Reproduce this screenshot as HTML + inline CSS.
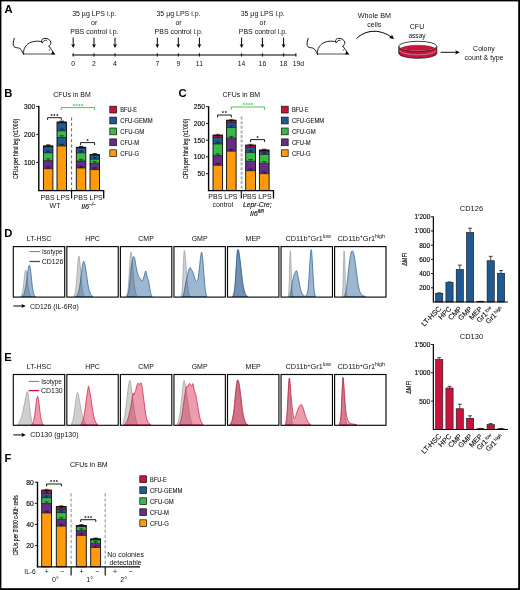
<!DOCTYPE html>
<html lang="en">
<head>
<meta charset="utf-8">
<title>Figure</title>
<style>
html,body{margin:0;padding:0;background:#fff;}
body{width:520px;height:590px;overflow:hidden;font-family:"Liberation Sans",sans-serif;}
svg{display:block;will-change:transform;}
svg text{font-family:"Liberation Sans",sans-serif;}
</style>
</head>
<body>
<svg width="520" height="590" viewBox="0 0 520 590">
<rect width="520" height="590" fill="#fff"/>
<text transform="translate(4.40,12.80) scale(1.1,1)" font-size="10.2" font-weight="bold" fill="#000">A</text>
<g transform="translate(13.00,54.50)" fill="none" stroke="#111" stroke-width="0.95" stroke-linecap="round" stroke-linejoin="round"><path d="M10.6,-0.5 L41.2,-0.5" stroke="#555" stroke-width="1.1"/><path d="M1.3,-16.2 C0.5,-13.5 -0.1,-11 0.3,-9.2 C0.9,-6.8 3,-7.0 5.2,-6.6 C7.8,-6.1 8.8,-4.2 9.5,-2 L10.5,-0.4"/><path d="M10.6,-0.4 C9.9,-6 13.2,-10.4 18,-12.3 C21.8,-13.7 25.6,-13.4 27.8,-13.0 L29.7,-12.0"/><path d="M28.7,-12.6 C28.2,-14.8 29.6,-16.2 32,-16.1 C34.8,-16.3 37.3,-14.6 37.8,-12.4 C38.1,-10.7 37.1,-9.3 36,-8.4"/><path d="M29.7,-12.0 C30.2,-13.6 31.6,-14.6 33.4,-14.2" stroke-width="0.8"/><path d="M36,-8.4 L38.4,-5 L41.6,-0.4"/><circle cx="36.4" cy="-4.5" r="0.6" fill="#000" stroke="none"/><path d="M38.2,-0.2 L41.9,0.1 L39.5,-3.3 Z" fill="#000" stroke="none"/></g>
<line x1="72.40" y1="55.00" x2="296.20" y2="55.00" stroke="#000" stroke-width="1.1" />
<line x1="73.20" y1="53.20" x2="73.20" y2="56.60" stroke="#000" stroke-width="0.9" />
<text x="73.20" y="65.80" font-size="6.80" text-anchor="middle" font-weight="normal" font-style="normal" fill="#111"  >0</text>
<line x1="73.20" y1="37.60" x2="73.20" y2="45.30" stroke="#000" stroke-width="1.0" />
<path d="M73.20,47.90 L71.20,44.00 L73.20,44.90 L75.20,44.00 Z" fill="#000"/>
<line x1="94.00" y1="53.20" x2="94.00" y2="56.60" stroke="#000" stroke-width="0.9" />
<text x="94.00" y="65.80" font-size="6.80" text-anchor="middle" font-weight="normal" font-style="normal" fill="#111"  >2</text>
<line x1="94.00" y1="37.60" x2="94.00" y2="45.30" stroke="#000" stroke-width="1.0" />
<path d="M94.00,47.90 L92.00,44.00 L94.00,44.90 L96.00,44.00 Z" fill="#000"/>
<line x1="115.00" y1="53.20" x2="115.00" y2="56.60" stroke="#000" stroke-width="0.9" />
<text x="115.00" y="65.80" font-size="6.80" text-anchor="middle" font-weight="normal" font-style="normal" fill="#111"  >4</text>
<line x1="115.00" y1="37.60" x2="115.00" y2="45.30" stroke="#000" stroke-width="1.0" />
<path d="M115.00,47.90 L113.00,44.00 L115.00,44.90 L117.00,44.00 Z" fill="#000"/>
<line x1="157.30" y1="53.20" x2="157.30" y2="56.60" stroke="#000" stroke-width="0.9" />
<text x="157.30" y="65.80" font-size="6.80" text-anchor="middle" font-weight="normal" font-style="normal" fill="#111"  >7</text>
<line x1="157.30" y1="37.60" x2="157.30" y2="45.30" stroke="#000" stroke-width="1.0" />
<path d="M157.30,47.90 L155.30,44.00 L157.30,44.90 L159.30,44.00 Z" fill="#000"/>
<line x1="178.30" y1="53.20" x2="178.30" y2="56.60" stroke="#000" stroke-width="0.9" />
<text x="178.30" y="65.80" font-size="6.80" text-anchor="middle" font-weight="normal" font-style="normal" fill="#111"  >9</text>
<line x1="178.30" y1="37.60" x2="178.30" y2="45.30" stroke="#000" stroke-width="1.0" />
<path d="M178.30,47.90 L176.30,44.00 L178.30,44.90 L180.30,44.00 Z" fill="#000"/>
<line x1="199.40" y1="53.20" x2="199.40" y2="56.60" stroke="#000" stroke-width="0.9" />
<text x="199.40" y="65.80" font-size="7.28" text-anchor="middle" font-weight="normal" font-style="normal" fill="#111" textLength="7.06" lengthAdjust="spacingAndGlyphs" >11</text>
<line x1="199.40" y1="37.60" x2="199.40" y2="45.30" stroke="#000" stroke-width="1.0" />
<path d="M199.40,47.90 L197.40,44.00 L199.40,44.90 L201.40,44.00 Z" fill="#000"/>
<line x1="241.60" y1="53.20" x2="241.60" y2="56.60" stroke="#000" stroke-width="0.9" />
<text x="241.60" y="65.80" font-size="7.28" text-anchor="middle" font-weight="normal" font-style="normal" fill="#111" textLength="7.56" lengthAdjust="spacingAndGlyphs" >14</text>
<line x1="241.60" y1="37.60" x2="241.60" y2="45.30" stroke="#000" stroke-width="1.0" />
<path d="M241.60,47.90 L239.60,44.00 L241.60,44.90 L243.60,44.00 Z" fill="#000"/>
<line x1="262.40" y1="53.20" x2="262.40" y2="56.60" stroke="#000" stroke-width="0.9" />
<text x="262.40" y="65.80" font-size="7.28" text-anchor="middle" font-weight="normal" font-style="normal" fill="#111" textLength="7.56" lengthAdjust="spacingAndGlyphs" >16</text>
<line x1="262.40" y1="37.60" x2="262.40" y2="45.30" stroke="#000" stroke-width="1.0" />
<path d="M262.40,47.90 L260.40,44.00 L262.40,44.90 L264.40,44.00 Z" fill="#000"/>
<line x1="283.60" y1="53.20" x2="283.60" y2="56.60" stroke="#000" stroke-width="0.9" />
<text x="283.60" y="65.80" font-size="7.28" text-anchor="middle" font-weight="normal" font-style="normal" fill="#111" textLength="7.56" lengthAdjust="spacingAndGlyphs" >18</text>
<line x1="283.60" y1="37.60" x2="283.60" y2="45.30" stroke="#000" stroke-width="1.0" />
<path d="M283.60,47.90 L281.60,44.00 L283.60,44.90 L285.60,44.00 Z" fill="#000"/>
<line x1="295.90" y1="53.20" x2="295.90" y2="56.60" stroke="#000" stroke-width="0.9" />
<text x="298.40" y="65.80" font-size="7.28" text-anchor="middle" font-weight="normal" font-style="normal" fill="#111" textLength="11.35" lengthAdjust="spacingAndGlyphs" >19d</text>
<text x="94.20" y="16.20" font-size="7.49" text-anchor="middle" font-weight="normal" font-style="normal" fill="#111" textLength="44.12" lengthAdjust="spacingAndGlyphs" >35 µg LPS i.p.</text>
<text x="94.20" y="24.70" font-size="7.49" text-anchor="middle" font-weight="normal" font-style="normal" fill="#111" textLength="6.22" lengthAdjust="spacingAndGlyphs" >or</text>
<text x="94.40" y="33.50" font-size="7.49" text-anchor="middle" font-weight="normal" font-style="normal" fill="#111" textLength="48.24" lengthAdjust="spacingAndGlyphs" >PBS control i.p.</text>
<text x="178.50" y="16.20" font-size="7.49" text-anchor="middle" font-weight="normal" font-style="normal" fill="#111" textLength="44.12" lengthAdjust="spacingAndGlyphs" >35 µg LPS i.p.</text>
<text x="178.50" y="24.70" font-size="7.49" text-anchor="middle" font-weight="normal" font-style="normal" fill="#111" textLength="6.22" lengthAdjust="spacingAndGlyphs" >or</text>
<text x="178.70" y="33.50" font-size="7.49" text-anchor="middle" font-weight="normal" font-style="normal" fill="#111" textLength="48.24" lengthAdjust="spacingAndGlyphs" >PBS control i.p.</text>
<text x="262.70" y="16.20" font-size="7.49" text-anchor="middle" font-weight="normal" font-style="normal" fill="#111" textLength="44.12" lengthAdjust="spacingAndGlyphs" >35 µg LPS i.p.</text>
<text x="262.70" y="24.70" font-size="7.49" text-anchor="middle" font-weight="normal" font-style="normal" fill="#111" textLength="6.22" lengthAdjust="spacingAndGlyphs" >or</text>
<text x="262.90" y="33.50" font-size="7.49" text-anchor="middle" font-weight="normal" font-style="normal" fill="#111" textLength="48.24" lengthAdjust="spacingAndGlyphs" >PBS control i.p.</text>
<g transform="translate(306.90,54.50)" fill="none" stroke="#111" stroke-width="0.95" stroke-linecap="round" stroke-linejoin="round"><path d="M10.6,-0.5 L41.2,-0.5" stroke="#555" stroke-width="1.1"/><path d="M1.3,-16.2 C0.5,-13.5 -0.1,-11 0.3,-9.2 C0.9,-6.8 3,-7.0 5.2,-6.6 C7.8,-6.1 8.8,-4.2 9.5,-2 L10.5,-0.4"/><path d="M10.6,-0.4 C9.9,-6 13.2,-10.4 18,-12.3 C21.8,-13.7 25.6,-13.4 27.8,-13.0 L29.7,-12.0"/><path d="M28.7,-12.6 C28.2,-14.8 29.6,-16.2 32,-16.1 C34.8,-16.3 37.3,-14.6 37.8,-12.4 C38.1,-10.7 37.1,-9.3 36,-8.4"/><path d="M29.7,-12.0 C30.2,-13.6 31.6,-14.6 33.4,-14.2" stroke-width="0.8"/><path d="M36,-8.4 L38.4,-5 L41.6,-0.4"/><circle cx="36.4" cy="-4.5" r="0.6" fill="#000" stroke="none"/><path d="M38.2,-0.2 L41.9,0.1 L39.5,-3.3 Z" fill="#000" stroke="none"/></g>
<text x="374.40" y="18.00" font-size="7.70" text-anchor="middle" font-weight="normal" font-style="normal" fill="#111" textLength="33.21" lengthAdjust="spacingAndGlyphs" >Whole BM</text>
<text x="374.20" y="26.80" font-size="7.49" text-anchor="middle" font-weight="normal" font-style="normal" fill="#111" textLength="14.00" lengthAdjust="spacingAndGlyphs" >cells</text>
<path d="M356.5,38.6 C362,32.8 371,30.0 379.5,31.8 C384,32.8 388,34.6 391.2,37.0" fill="none" stroke="#000" stroke-width="1.0" />
<path d="M394.0,39.0 L389.0,37.9 L391.2,36.6 L391.9,34.4 Z" fill="#000"/>
<text x="417.00" y="29.00" font-size="7.49" text-anchor="middle" font-weight="normal" font-style="normal" fill="#111" textLength="14.39" lengthAdjust="spacingAndGlyphs" >CFU</text>
<text x="417.00" y="37.60" font-size="7.06" text-anchor="middle" font-weight="normal" font-style="normal" fill="#111" textLength="17.24" lengthAdjust="spacingAndGlyphs" >assay</text>
<path d="M398.8,46.3 L398.8,53.3 A19,5.0 0 0 0 436.8,53.3 L436.8,46.3 Z" fill="#c8143c" stroke="#111" stroke-width="0.8" />
<ellipse cx="417.8" cy="46.3" rx="19" ry="5.0" fill="#fff" stroke="#111" stroke-width="0.8"/>
<clipPath id="dishclip"><ellipse cx="417.8" cy="46.3" rx="18.55" ry="4.55"/></clipPath>
<ellipse cx="417.8" cy="49.599999999999994" rx="18.1" ry="4.4" fill="#c8143c" stroke="#7a2030" stroke-width="0.5" clip-path="url(#dishclip)"/>
<path d="M399.40000000000003,50.699999999999996 A19,5.6 0 0 0 436.2,50.699999999999996" fill="none" stroke="#a8a0a2" stroke-width="0.8" />
<line x1="440.60" y1="52.30" x2="456.50" y2="52.30" stroke="#000" stroke-width="0.95" />
<path d="M459.8,52.3 L455.2,50.2 L456.2,52.3 L455.2,54.4 Z" fill="#000"/>
<text x="484.00" y="51.20" font-size="7.49" text-anchor="middle" font-weight="normal" font-style="normal" fill="#111" textLength="21.79" lengthAdjust="spacingAndGlyphs" >Colony</text>
<text x="484.00" y="59.60" font-size="7.49" text-anchor="middle" font-weight="normal" font-style="normal" fill="#111" textLength="38.91" lengthAdjust="spacingAndGlyphs" >count &amp; type</text>
<text transform="translate(4.30,97.00) scale(1.1,1)" font-size="10.2" font-weight="bold" fill="#000">B</text>
<text x="72.00" y="97.00" font-size="7.49" text-anchor="middle" font-weight="normal" font-style="normal" fill="#111" textLength="37.72" lengthAdjust="spacingAndGlyphs" >CFUs in BM</text>
<rect x="43.40" y="168.70" width="9.50" height="21.70" fill="#ff9a0a"/>
<rect x="43.40" y="160.61" width="9.50" height="8.09" fill="#662d87"/>
<rect x="43.40" y="152.80" width="9.50" height="7.81" fill="#3cb84a"/>
<rect x="43.40" y="146.58" width="9.50" height="6.22" fill="#1f5a94"/>
<rect x="43.40" y="145.99" width="9.50" height="0.59" fill="#c8143c"/>
<line x1="43.40" y1="168.70" x2="52.90" y2="168.70" stroke="#0a0a0a" stroke-width="0.7" />
<line x1="48.15" y1="168.70" x2="48.15" y2="167.00" stroke="#0a0a0a" stroke-width="0.6" />
<line x1="46.05" y1="167.00" x2="50.25" y2="167.00" stroke="#0a0a0a" stroke-width="0.6" />
<line x1="43.40" y1="160.61" x2="52.90" y2="160.61" stroke="#0a0a0a" stroke-width="0.7" />
<line x1="48.15" y1="160.61" x2="48.15" y2="158.91" stroke="#0a0a0a" stroke-width="0.6" />
<line x1="46.05" y1="158.91" x2="50.25" y2="158.91" stroke="#0a0a0a" stroke-width="0.6" />
<line x1="43.40" y1="152.80" x2="52.90" y2="152.80" stroke="#0a0a0a" stroke-width="0.7" />
<line x1="48.15" y1="152.80" x2="48.15" y2="151.10" stroke="#0a0a0a" stroke-width="0.6" />
<line x1="46.05" y1="151.10" x2="50.25" y2="151.10" stroke="#0a0a0a" stroke-width="0.6" />
<line x1="43.40" y1="146.58" x2="52.90" y2="146.58" stroke="#0a0a0a" stroke-width="0.7" />
<line x1="48.15" y1="146.58" x2="48.15" y2="144.88" stroke="#0a0a0a" stroke-width="0.6" />
<line x1="46.05" y1="144.88" x2="50.25" y2="144.88" stroke="#0a0a0a" stroke-width="0.6" />
<line x1="43.40" y1="145.99" x2="52.90" y2="145.99" stroke="#0a0a0a" stroke-width="0.7" />
<line x1="48.15" y1="145.99" x2="48.15" y2="145.09" stroke="#0a0a0a" stroke-width="0.6" />
<line x1="46.05" y1="145.09" x2="50.25" y2="145.09" stroke="#0a0a0a" stroke-width="0.6" />
<rect x="43.40" y="145.99" width="9.50" height="44.41" fill="none" stroke="#0a0a0a" stroke-width="0.9"/>
<rect x="57.00" y="145.99" width="9.50" height="44.41" fill="#ff9a0a"/>
<rect x="57.00" y="137.48" width="9.50" height="8.51" fill="#1f5a94"/>
<rect x="57.00" y="130.76" width="9.50" height="6.72" fill="#3cb84a"/>
<rect x="57.00" y="122.78" width="9.50" height="7.98" fill="#1f5a94"/>
<rect x="57.00" y="122.11" width="9.50" height="0.67" fill="#c8143c"/>
<line x1="57.00" y1="145.99" x2="66.50" y2="145.99" stroke="#0a0a0a" stroke-width="0.7" />
<line x1="61.75" y1="145.99" x2="61.75" y2="144.29" stroke="#0a0a0a" stroke-width="0.6" />
<line x1="59.65" y1="144.29" x2="63.85" y2="144.29" stroke="#0a0a0a" stroke-width="0.6" />
<line x1="57.00" y1="137.48" x2="66.50" y2="137.48" stroke="#0a0a0a" stroke-width="0.7" />
<line x1="61.75" y1="137.48" x2="61.75" y2="135.78" stroke="#0a0a0a" stroke-width="0.6" />
<line x1="59.65" y1="135.78" x2="63.85" y2="135.78" stroke="#0a0a0a" stroke-width="0.6" />
<line x1="57.00" y1="130.76" x2="66.50" y2="130.76" stroke="#0a0a0a" stroke-width="0.7" />
<line x1="61.75" y1="130.76" x2="61.75" y2="129.06" stroke="#0a0a0a" stroke-width="0.6" />
<line x1="59.65" y1="129.06" x2="63.85" y2="129.06" stroke="#0a0a0a" stroke-width="0.6" />
<line x1="57.00" y1="122.78" x2="66.50" y2="122.78" stroke="#0a0a0a" stroke-width="0.7" />
<line x1="61.75" y1="122.78" x2="61.75" y2="121.08" stroke="#0a0a0a" stroke-width="0.6" />
<line x1="59.65" y1="121.08" x2="63.85" y2="121.08" stroke="#0a0a0a" stroke-width="0.6" />
<line x1="57.00" y1="122.11" x2="66.50" y2="122.11" stroke="#0a0a0a" stroke-width="0.7" />
<line x1="61.75" y1="122.11" x2="61.75" y2="121.21" stroke="#0a0a0a" stroke-width="0.6" />
<line x1="59.65" y1="121.21" x2="63.85" y2="121.21" stroke="#0a0a0a" stroke-width="0.6" />
<rect x="57.00" y="122.11" width="9.50" height="68.29" fill="none" stroke="#0a0a0a" stroke-width="0.9"/>
<rect x="76.30" y="168.00" width="9.50" height="22.40" fill="#ff9a0a"/>
<rect x="76.30" y="161.00" width="9.50" height="7.00" fill="#662d87"/>
<rect x="76.30" y="152.80" width="9.50" height="8.20" fill="#3cb84a"/>
<rect x="76.30" y="147.95" width="9.50" height="4.84" fill="#1f5a94"/>
<rect x="76.30" y="147.39" width="9.50" height="0.56" fill="#c8143c"/>
<line x1="76.30" y1="168.00" x2="85.80" y2="168.00" stroke="#0a0a0a" stroke-width="0.7" />
<line x1="81.05" y1="168.00" x2="81.05" y2="166.30" stroke="#0a0a0a" stroke-width="0.6" />
<line x1="78.95" y1="166.30" x2="83.15" y2="166.30" stroke="#0a0a0a" stroke-width="0.6" />
<line x1="76.30" y1="161.00" x2="85.80" y2="161.00" stroke="#0a0a0a" stroke-width="0.7" />
<line x1="81.05" y1="161.00" x2="81.05" y2="159.30" stroke="#0a0a0a" stroke-width="0.6" />
<line x1="78.95" y1="159.30" x2="83.15" y2="159.30" stroke="#0a0a0a" stroke-width="0.6" />
<line x1="76.30" y1="152.80" x2="85.80" y2="152.80" stroke="#0a0a0a" stroke-width="0.7" />
<line x1="81.05" y1="152.80" x2="81.05" y2="151.10" stroke="#0a0a0a" stroke-width="0.6" />
<line x1="78.95" y1="151.10" x2="83.15" y2="151.10" stroke="#0a0a0a" stroke-width="0.6" />
<line x1="76.30" y1="147.95" x2="85.80" y2="147.95" stroke="#0a0a0a" stroke-width="0.7" />
<line x1="81.05" y1="147.95" x2="81.05" y2="146.25" stroke="#0a0a0a" stroke-width="0.6" />
<line x1="78.95" y1="146.25" x2="83.15" y2="146.25" stroke="#0a0a0a" stroke-width="0.6" />
<line x1="76.30" y1="147.39" x2="85.80" y2="147.39" stroke="#0a0a0a" stroke-width="0.7" />
<line x1="81.05" y1="147.39" x2="81.05" y2="146.49" stroke="#0a0a0a" stroke-width="0.6" />
<line x1="78.95" y1="146.49" x2="83.15" y2="146.49" stroke="#0a0a0a" stroke-width="0.6" />
<rect x="76.30" y="147.39" width="9.50" height="43.01" fill="none" stroke="#0a0a0a" stroke-width="0.9"/>
<rect x="90.00" y="169.60" width="9.50" height="20.80" fill="#ff9a0a"/>
<rect x="90.00" y="163.30" width="9.50" height="6.30" fill="#662d87"/>
<rect x="90.00" y="159.21" width="9.50" height="4.09" fill="#3cb84a"/>
<rect x="90.00" y="155.26" width="9.50" height="3.95" fill="#1f5a94"/>
<rect x="90.00" y="154.70" width="9.50" height="0.56" fill="#c8143c"/>
<line x1="90.00" y1="169.60" x2="99.50" y2="169.60" stroke="#0a0a0a" stroke-width="0.7" />
<line x1="94.75" y1="169.60" x2="94.75" y2="167.90" stroke="#0a0a0a" stroke-width="0.6" />
<line x1="92.65" y1="167.90" x2="96.85" y2="167.90" stroke="#0a0a0a" stroke-width="0.6" />
<line x1="90.00" y1="163.30" x2="99.50" y2="163.30" stroke="#0a0a0a" stroke-width="0.7" />
<line x1="94.75" y1="163.30" x2="94.75" y2="161.60" stroke="#0a0a0a" stroke-width="0.6" />
<line x1="92.65" y1="161.60" x2="96.85" y2="161.60" stroke="#0a0a0a" stroke-width="0.6" />
<line x1="90.00" y1="159.21" x2="99.50" y2="159.21" stroke="#0a0a0a" stroke-width="0.7" />
<line x1="94.75" y1="159.21" x2="94.75" y2="157.51" stroke="#0a0a0a" stroke-width="0.6" />
<line x1="92.65" y1="157.51" x2="96.85" y2="157.51" stroke="#0a0a0a" stroke-width="0.6" />
<line x1="90.00" y1="155.26" x2="99.50" y2="155.26" stroke="#0a0a0a" stroke-width="0.7" />
<line x1="94.75" y1="155.26" x2="94.75" y2="153.56" stroke="#0a0a0a" stroke-width="0.6" />
<line x1="92.65" y1="153.56" x2="96.85" y2="153.56" stroke="#0a0a0a" stroke-width="0.6" />
<line x1="90.00" y1="154.70" x2="99.50" y2="154.70" stroke="#0a0a0a" stroke-width="0.7" />
<line x1="94.75" y1="154.70" x2="94.75" y2="153.80" stroke="#0a0a0a" stroke-width="0.6" />
<line x1="92.65" y1="153.80" x2="96.85" y2="153.80" stroke="#0a0a0a" stroke-width="0.6" />
<rect x="90.00" y="154.70" width="9.50" height="35.70" fill="none" stroke="#0a0a0a" stroke-width="0.9"/>
<line x1="38.80" y1="105.80" x2="38.80" y2="191.10" stroke="#000" stroke-width="1.4" />
<path d="M38.099999999999994,190.70000000000002 L103.7,190.70000000000002 L103.7,198.6" fill="none" stroke="#000" stroke-width="1.3" />
<line x1="71.60" y1="190.40" x2="71.60" y2="198.60" stroke="#000" stroke-width="1.1" />
<line x1="36.20" y1="162.40" x2="38.80" y2="162.40" stroke="#000" stroke-width="0.9" />
<text x="35.20" y="164.80" font-size="7.17" text-anchor="end" font-weight="normal" font-style="normal" fill="#111" textLength="11.18" lengthAdjust="spacingAndGlyphs" stroke="#111" stroke-width="0.18">100</text>
<line x1="36.20" y1="134.40" x2="38.80" y2="134.40" stroke="#000" stroke-width="0.9" />
<text x="35.20" y="136.80" font-size="7.17" text-anchor="end" font-weight="normal" font-style="normal" fill="#111" textLength="11.18" lengthAdjust="spacingAndGlyphs" stroke="#111" stroke-width="0.18">200</text>
<line x1="36.20" y1="106.40" x2="38.80" y2="106.40" stroke="#000" stroke-width="0.9" />
<text x="35.20" y="108.80" font-size="7.17" text-anchor="end" font-weight="normal" font-style="normal" fill="#111" textLength="11.18" lengthAdjust="spacingAndGlyphs" stroke="#111" stroke-width="0.18">300</text>
<line x1="71.60" y1="117.50" x2="71.60" y2="189.80" stroke="#2e2e2e" stroke-width="0.75" stroke-dasharray="3,2.4"/>
<path d="M47.60,119.90 L47.60,117.70 L61.30,117.70 L61.30,119.90" fill="none" stroke="#000" stroke-width="0.9" />
<text x="54.45" y="117.80" font-size="5.60" text-anchor="middle" font-weight="bold" font-style="normal" fill="#000"  textLength="7.8" lengthAdjust="spacing">***</text>
<path d="M61.30,110.20 L61.30,107.60 L94.60,107.60 L94.60,110.20" fill="none" stroke="#3cb84a" stroke-width="0.9" />
<text x="77.95" y="107.70" font-size="5.60" text-anchor="middle" font-weight="bold" font-style="normal" fill="#3cb84a"  textLength="10.4" lengthAdjust="spacing">****</text>
<path d="M80.60,145.00 L80.60,142.60 L94.60,142.60 L94.60,145.00" fill="none" stroke="#000" stroke-width="0.9" />
<text x="87.60" y="142.70" font-size="5.60" text-anchor="middle" font-weight="bold" font-style="normal" fill="#000"  >*</text>
<text x="55.20" y="199.60" font-size="7.49" text-anchor="middle" font-weight="normal" font-style="normal" fill="#111" textLength="29.18" lengthAdjust="spacingAndGlyphs" >PBS LPS</text>
<text x="88.20" y="199.60" font-size="7.49" text-anchor="middle" font-weight="normal" font-style="normal" fill="#111" textLength="29.18" lengthAdjust="spacingAndGlyphs" >PBS LPS</text>
<text x="55.00" y="208.20" font-size="7.49" text-anchor="middle" font-weight="normal" font-style="normal" fill="#111" textLength="10.88" lengthAdjust="spacingAndGlyphs" >WT</text>
<text x="88.6" y="208.6" font-size="7.2" text-anchor="middle" font-style="italic" fill="#111" stroke="#111" stroke-width="0.15">Il6<tspan font-size="4.8" dy="-2.6">−/−</tspan></text>
<text transform="translate(17.80,148.90) rotate(-90)" font-size="7.0" text-anchor="middle" fill="#111" stroke="#111" stroke-width="0.18" textLength="60" lengthAdjust="spacingAndGlyphs">CFUs per hind leg (x1’000)</text>
<rect x="109.80" y="106.20" width="6.80" height="6.80" fill="#c8143c" stroke="#111" stroke-width="0.7"/>
<text x="120.30" y="112.20" font-size="6.80" text-anchor="start" font-weight="normal" font-style="normal" fill="#111"  textLength="16.8" lengthAdjust="spacingAndGlyphs" stroke="#111" stroke-width="0.08">BFU-E</text>
<rect x="109.80" y="117.10" width="6.80" height="6.80" fill="#1f5a94" stroke="#111" stroke-width="0.7"/>
<text x="120.30" y="123.10" font-size="6.80" text-anchor="start" font-weight="normal" font-style="normal" fill="#111"  textLength="32.3" lengthAdjust="spacingAndGlyphs" stroke="#111" stroke-width="0.08">CFU-GEMM</text>
<rect x="109.80" y="128.00" width="6.80" height="6.80" fill="#3cb84a" stroke="#111" stroke-width="0.7"/>
<text x="120.30" y="134.00" font-size="6.80" text-anchor="start" font-weight="normal" font-style="normal" fill="#111"  textLength="23.8" lengthAdjust="spacingAndGlyphs" stroke="#111" stroke-width="0.08">CFU-GM</text>
<rect x="109.80" y="138.90" width="6.80" height="6.80" fill="#662d87" stroke="#111" stroke-width="0.7"/>
<text x="120.30" y="144.90" font-size="6.80" text-anchor="start" font-weight="normal" font-style="normal" fill="#111"  textLength="18.8" lengthAdjust="spacingAndGlyphs" stroke="#111" stroke-width="0.08">CFU-M</text>
<rect x="109.80" y="149.80" width="6.80" height="6.80" fill="#ff9a0a" stroke="#111" stroke-width="0.7"/>
<text x="120.30" y="155.80" font-size="6.80" text-anchor="start" font-weight="normal" font-style="normal" fill="#111"  textLength="18.8" lengthAdjust="spacingAndGlyphs" stroke="#111" stroke-width="0.08">CFU-G</text>
<text transform="translate(178.40,97.00) scale(1.1,1)" font-size="10.2" font-weight="bold" fill="#000">C</text>
<text x="241.30" y="97.00" font-size="7.49" text-anchor="middle" font-weight="normal" font-style="normal" fill="#111" textLength="37.72" lengthAdjust="spacingAndGlyphs" >CFUs in BM</text>
<rect x="213.00" y="165.28" width="9.60" height="25.12" fill="#ff9a0a"/>
<rect x="213.00" y="155.56" width="9.60" height="9.72" fill="#662d87"/>
<rect x="213.00" y="143.90" width="9.60" height="11.66" fill="#3cb84a"/>
<rect x="213.00" y="137.47" width="9.60" height="6.43" fill="#1f5a94"/>
<rect x="213.00" y="135.19" width="9.60" height="2.28" fill="#c8143c"/>
<line x1="213.00" y1="165.28" x2="222.60" y2="165.28" stroke="#0a0a0a" stroke-width="0.7" />
<line x1="217.80" y1="165.28" x2="217.80" y2="163.58" stroke="#0a0a0a" stroke-width="0.6" />
<line x1="215.70" y1="163.58" x2="219.90" y2="163.58" stroke="#0a0a0a" stroke-width="0.6" />
<line x1="213.00" y1="155.56" x2="222.60" y2="155.56" stroke="#0a0a0a" stroke-width="0.7" />
<line x1="217.80" y1="155.56" x2="217.80" y2="153.86" stroke="#0a0a0a" stroke-width="0.6" />
<line x1="215.70" y1="153.86" x2="219.90" y2="153.86" stroke="#0a0a0a" stroke-width="0.6" />
<line x1="213.00" y1="143.90" x2="222.60" y2="143.90" stroke="#0a0a0a" stroke-width="0.7" />
<line x1="217.80" y1="143.90" x2="217.80" y2="142.20" stroke="#0a0a0a" stroke-width="0.6" />
<line x1="215.70" y1="142.20" x2="219.90" y2="142.20" stroke="#0a0a0a" stroke-width="0.6" />
<line x1="213.00" y1="137.47" x2="222.60" y2="137.47" stroke="#0a0a0a" stroke-width="0.7" />
<line x1="217.80" y1="137.47" x2="217.80" y2="135.77" stroke="#0a0a0a" stroke-width="0.6" />
<line x1="215.70" y1="135.77" x2="219.90" y2="135.77" stroke="#0a0a0a" stroke-width="0.6" />
<line x1="213.00" y1="135.19" x2="222.60" y2="135.19" stroke="#0a0a0a" stroke-width="0.7" />
<line x1="217.80" y1="135.19" x2="217.80" y2="134.29" stroke="#0a0a0a" stroke-width="0.6" />
<line x1="215.70" y1="134.29" x2="219.90" y2="134.29" stroke="#0a0a0a" stroke-width="0.6" />
<rect x="213.00" y="135.19" width="9.60" height="55.21" fill="none" stroke="#0a0a0a" stroke-width="0.9"/>
<rect x="226.60" y="151.21" width="9.50" height="39.19" fill="#ff9a0a"/>
<rect x="226.60" y="138.14" width="9.50" height="13.07" fill="#662d87"/>
<rect x="226.60" y="127.59" width="9.50" height="10.55" fill="#3cb84a"/>
<rect x="226.60" y="122.60" width="9.50" height="4.99" fill="#1f5a94"/>
<rect x="226.60" y="120.28" width="9.50" height="2.31" fill="#c8143c"/>
<line x1="226.60" y1="151.21" x2="236.10" y2="151.21" stroke="#0a0a0a" stroke-width="0.7" />
<line x1="231.35" y1="151.21" x2="231.35" y2="149.51" stroke="#0a0a0a" stroke-width="0.6" />
<line x1="229.25" y1="149.51" x2="233.45" y2="149.51" stroke="#0a0a0a" stroke-width="0.6" />
<line x1="226.60" y1="138.14" x2="236.10" y2="138.14" stroke="#0a0a0a" stroke-width="0.7" />
<line x1="231.35" y1="138.14" x2="231.35" y2="136.44" stroke="#0a0a0a" stroke-width="0.6" />
<line x1="229.25" y1="136.44" x2="233.45" y2="136.44" stroke="#0a0a0a" stroke-width="0.6" />
<line x1="226.60" y1="127.59" x2="236.10" y2="127.59" stroke="#0a0a0a" stroke-width="0.7" />
<line x1="231.35" y1="127.59" x2="231.35" y2="125.89" stroke="#0a0a0a" stroke-width="0.6" />
<line x1="229.25" y1="125.89" x2="233.45" y2="125.89" stroke="#0a0a0a" stroke-width="0.6" />
<line x1="226.60" y1="122.60" x2="236.10" y2="122.60" stroke="#0a0a0a" stroke-width="0.7" />
<line x1="231.35" y1="122.60" x2="231.35" y2="120.90" stroke="#0a0a0a" stroke-width="0.6" />
<line x1="229.25" y1="120.90" x2="233.45" y2="120.90" stroke="#0a0a0a" stroke-width="0.6" />
<line x1="226.60" y1="120.28" x2="236.10" y2="120.28" stroke="#0a0a0a" stroke-width="0.7" />
<line x1="231.35" y1="120.28" x2="231.35" y2="119.38" stroke="#0a0a0a" stroke-width="0.6" />
<line x1="229.25" y1="119.38" x2="233.45" y2="119.38" stroke="#0a0a0a" stroke-width="0.6" />
<rect x="226.60" y="120.28" width="9.50" height="70.12" fill="none" stroke="#0a0a0a" stroke-width="0.9"/>
<rect x="245.70" y="170.70" width="9.80" height="19.70" fill="#ff9a0a"/>
<rect x="245.70" y="161.25" width="9.80" height="9.45" fill="#662d87"/>
<rect x="245.70" y="152.41" width="9.80" height="8.84" fill="#3cb84a"/>
<rect x="245.70" y="147.39" width="9.80" height="5.03" fill="#1f5a94"/>
<rect x="245.70" y="145.18" width="9.80" height="2.21" fill="#c8143c"/>
<line x1="245.70" y1="170.70" x2="255.50" y2="170.70" stroke="#0a0a0a" stroke-width="0.7" />
<line x1="250.60" y1="170.70" x2="250.60" y2="169.00" stroke="#0a0a0a" stroke-width="0.6" />
<line x1="248.50" y1="169.00" x2="252.70" y2="169.00" stroke="#0a0a0a" stroke-width="0.6" />
<line x1="245.70" y1="161.25" x2="255.50" y2="161.25" stroke="#0a0a0a" stroke-width="0.7" />
<line x1="250.60" y1="161.25" x2="250.60" y2="159.56" stroke="#0a0a0a" stroke-width="0.6" />
<line x1="248.50" y1="159.56" x2="252.70" y2="159.56" stroke="#0a0a0a" stroke-width="0.6" />
<line x1="245.70" y1="152.41" x2="255.50" y2="152.41" stroke="#0a0a0a" stroke-width="0.7" />
<line x1="250.60" y1="152.41" x2="250.60" y2="150.71" stroke="#0a0a0a" stroke-width="0.6" />
<line x1="248.50" y1="150.71" x2="252.70" y2="150.71" stroke="#0a0a0a" stroke-width="0.6" />
<line x1="245.70" y1="147.39" x2="255.50" y2="147.39" stroke="#0a0a0a" stroke-width="0.7" />
<line x1="250.60" y1="147.39" x2="250.60" y2="145.69" stroke="#0a0a0a" stroke-width="0.6" />
<line x1="248.50" y1="145.69" x2="252.70" y2="145.69" stroke="#0a0a0a" stroke-width="0.6" />
<line x1="245.70" y1="145.18" x2="255.50" y2="145.18" stroke="#0a0a0a" stroke-width="0.7" />
<line x1="250.60" y1="145.18" x2="250.60" y2="144.28" stroke="#0a0a0a" stroke-width="0.6" />
<line x1="248.50" y1="144.28" x2="252.70" y2="144.28" stroke="#0a0a0a" stroke-width="0.6" />
<rect x="245.70" y="145.18" width="9.80" height="45.22" fill="none" stroke="#0a0a0a" stroke-width="0.9"/>
<rect x="259.40" y="173.68" width="9.70" height="16.72" fill="#ff9a0a"/>
<rect x="259.40" y="163.27" width="9.70" height="10.42" fill="#662d87"/>
<rect x="259.40" y="154.39" width="9.70" height="8.88" fill="#3cb84a"/>
<rect x="259.40" y="151.54" width="9.70" height="2.85" fill="#1f5a94"/>
<rect x="259.40" y="150.10" width="9.70" height="1.44" fill="#c8143c"/>
<line x1="259.40" y1="173.68" x2="269.10" y2="173.68" stroke="#0a0a0a" stroke-width="0.7" />
<line x1="264.25" y1="173.68" x2="264.25" y2="171.98" stroke="#0a0a0a" stroke-width="0.6" />
<line x1="262.15" y1="171.98" x2="266.35" y2="171.98" stroke="#0a0a0a" stroke-width="0.6" />
<line x1="259.40" y1="163.27" x2="269.10" y2="163.27" stroke="#0a0a0a" stroke-width="0.7" />
<line x1="264.25" y1="163.27" x2="264.25" y2="161.57" stroke="#0a0a0a" stroke-width="0.6" />
<line x1="262.15" y1="161.57" x2="266.35" y2="161.57" stroke="#0a0a0a" stroke-width="0.6" />
<line x1="259.40" y1="154.39" x2="269.10" y2="154.39" stroke="#0a0a0a" stroke-width="0.7" />
<line x1="264.25" y1="154.39" x2="264.25" y2="152.69" stroke="#0a0a0a" stroke-width="0.6" />
<line x1="262.15" y1="152.69" x2="266.35" y2="152.69" stroke="#0a0a0a" stroke-width="0.6" />
<line x1="259.40" y1="151.54" x2="269.10" y2="151.54" stroke="#0a0a0a" stroke-width="0.7" />
<line x1="264.25" y1="151.54" x2="264.25" y2="149.84" stroke="#0a0a0a" stroke-width="0.6" />
<line x1="262.15" y1="149.84" x2="266.35" y2="149.84" stroke="#0a0a0a" stroke-width="0.6" />
<line x1="259.40" y1="150.10" x2="269.10" y2="150.10" stroke="#0a0a0a" stroke-width="0.7" />
<line x1="264.25" y1="150.10" x2="264.25" y2="149.20" stroke="#0a0a0a" stroke-width="0.6" />
<line x1="262.15" y1="149.20" x2="266.35" y2="149.20" stroke="#0a0a0a" stroke-width="0.6" />
<rect x="259.40" y="150.10" width="9.70" height="40.30" fill="none" stroke="#0a0a0a" stroke-width="0.9"/>
<line x1="208.60" y1="106.30" x2="208.60" y2="191.10" stroke="#000" stroke-width="1.4" />
<path d="M207.9,190.70000000000002 L273.5,190.70000000000002 L273.5,198.4" fill="none" stroke="#000" stroke-width="1.3" />
<line x1="241.30" y1="190.40" x2="241.30" y2="198.40" stroke="#000" stroke-width="1.1" />
<line x1="206.00" y1="173.65" x2="208.60" y2="173.65" stroke="#000" stroke-width="0.9" />
<text x="205.00" y="176.05" font-size="7.17" text-anchor="end" font-weight="normal" font-style="normal" fill="#111" textLength="7.45" lengthAdjust="spacingAndGlyphs" stroke="#111" stroke-width="0.18">50</text>
<line x1="206.00" y1="156.90" x2="208.60" y2="156.90" stroke="#000" stroke-width="0.9" />
<text x="205.00" y="159.30" font-size="7.17" text-anchor="end" font-weight="normal" font-style="normal" fill="#111" textLength="11.18" lengthAdjust="spacingAndGlyphs" stroke="#111" stroke-width="0.18">100</text>
<line x1="206.00" y1="140.15" x2="208.60" y2="140.15" stroke="#000" stroke-width="0.9" />
<text x="205.00" y="142.55" font-size="7.17" text-anchor="end" font-weight="normal" font-style="normal" fill="#111" textLength="11.18" lengthAdjust="spacingAndGlyphs" stroke="#111" stroke-width="0.18">150</text>
<line x1="206.00" y1="123.40" x2="208.60" y2="123.40" stroke="#000" stroke-width="0.9" />
<text x="205.00" y="125.80" font-size="7.17" text-anchor="end" font-weight="normal" font-style="normal" fill="#111" textLength="11.18" lengthAdjust="spacingAndGlyphs" stroke="#111" stroke-width="0.18">200</text>
<line x1="206.00" y1="106.65" x2="208.60" y2="106.65" stroke="#000" stroke-width="0.9" />
<text x="205.00" y="109.05" font-size="7.17" text-anchor="end" font-weight="normal" font-style="normal" fill="#111" textLength="11.18" lengthAdjust="spacingAndGlyphs" stroke="#111" stroke-width="0.18">250</text>
<line x1="241.60" y1="116.60" x2="241.60" y2="189.80" stroke="#b2b2b2" stroke-width="2.0" stroke-dasharray="3.0,1.6"/>
<path d="M217.60,117.40 L217.60,115.00 L231.30,115.00 L231.30,117.40" fill="none" stroke="#000" stroke-width="0.9" />
<text x="224.45" y="115.10" font-size="5.60" text-anchor="middle" font-weight="bold" font-style="normal" fill="#000"  textLength="5.2" lengthAdjust="spacing">**</text>
<path d="M231.30,109.80 L231.30,107.00 L264.60,107.00 L264.60,109.80" fill="none" stroke="#3cb84a" stroke-width="0.9" />
<text x="247.95" y="107.10" font-size="5.60" text-anchor="middle" font-weight="bold" font-style="normal" fill="#3cb84a"  textLength="10.4" lengthAdjust="spacing">****</text>
<path d="M250.60,142.00 L250.60,139.60 L264.60,139.60 L264.60,142.00" fill="none" stroke="#000" stroke-width="0.9" />
<text x="257.60" y="139.70" font-size="5.60" text-anchor="middle" font-weight="bold" font-style="normal" fill="#000"  >*</text>
<text x="222.90" y="198.50" font-size="7.49" text-anchor="middle" font-weight="normal" font-style="normal" fill="#111" textLength="29.18" lengthAdjust="spacingAndGlyphs" >PBS LPS</text>
<text x="257.00" y="198.50" font-size="7.49" text-anchor="middle" font-weight="normal" font-style="normal" fill="#111" textLength="29.18" lengthAdjust="spacingAndGlyphs" >PBS LPS</text>
<text x="222.90" y="206.80" font-size="7.38" text-anchor="middle" font-weight="normal" font-style="normal" fill="#111" textLength="20.71" lengthAdjust="spacingAndGlyphs" >control</text>
<text x="257.30" y="206.60" font-size="7.28" text-anchor="middle" font-weight="normal" font-style="italic" fill="#111" textLength="28.60" lengthAdjust="spacingAndGlyphs" stroke="#111" stroke-width="0.15">Lepr-Cre;</text>
<text x="256.9" y="215.5" font-size="7.2" text-anchor="middle" font-style="italic" fill="#111" stroke="#111" stroke-width="0.15">Il6<tspan font-size="4.8" dy="-2.6">fl/fl</tspan></text>
<text transform="translate(187.80,148.90) rotate(-90)" font-size="7.0" text-anchor="middle" fill="#111" stroke="#111" stroke-width="0.18" textLength="60" lengthAdjust="spacingAndGlyphs">CFUs per hind leg (x1’000)</text>
<rect x="281.40" y="106.20" width="6.80" height="6.80" fill="#c8143c" stroke="#111" stroke-width="0.7"/>
<text x="291.90" y="112.20" font-size="6.80" text-anchor="start" font-weight="normal" font-style="normal" fill="#111"  textLength="16.8" lengthAdjust="spacingAndGlyphs" stroke="#111" stroke-width="0.08">BFU-E</text>
<rect x="281.40" y="117.10" width="6.80" height="6.80" fill="#1f5a94" stroke="#111" stroke-width="0.7"/>
<text x="291.90" y="123.10" font-size="6.80" text-anchor="start" font-weight="normal" font-style="normal" fill="#111"  textLength="32.3" lengthAdjust="spacingAndGlyphs" stroke="#111" stroke-width="0.08">CFU-GEMM</text>
<rect x="281.40" y="128.00" width="6.80" height="6.80" fill="#3cb84a" stroke="#111" stroke-width="0.7"/>
<text x="291.90" y="134.00" font-size="6.80" text-anchor="start" font-weight="normal" font-style="normal" fill="#111"  textLength="23.8" lengthAdjust="spacingAndGlyphs" stroke="#111" stroke-width="0.08">CFU-GM</text>
<rect x="281.40" y="138.90" width="6.80" height="6.80" fill="#662d87" stroke="#111" stroke-width="0.7"/>
<text x="291.90" y="144.90" font-size="6.80" text-anchor="start" font-weight="normal" font-style="normal" fill="#111"  textLength="18.8" lengthAdjust="spacingAndGlyphs" stroke="#111" stroke-width="0.08">CFU-M</text>
<rect x="281.40" y="149.80" width="6.80" height="6.80" fill="#ff9a0a" stroke="#111" stroke-width="0.7"/>
<text x="291.90" y="155.80" font-size="6.80" text-anchor="start" font-weight="normal" font-style="normal" fill="#111"  textLength="18.8" lengthAdjust="spacingAndGlyphs" stroke="#111" stroke-width="0.08">CFU-G</text>
<text transform="translate(4.30,236.50) scale(1.1,1)" font-size="10.2" font-weight="bold" fill="#000">D</text>
<path d="M20.30,296.50 C20.52,296.25 21.22,296.10 21.65,294.91 C22.08,293.72 22.59,291.71 23.00,289.08 C23.41,286.45 23.86,281.24 24.19,278.48 C24.52,275.72 24.81,273.21 25.05,271.86 C25.29,270.50 25.48,270.00 25.70,270.00 C25.92,270.00 26.14,270.50 26.40,271.86 C26.66,273.21 26.97,275.72 27.32,278.48 C27.68,281.24 28.16,286.45 28.60,289.08 C29.04,291.71 29.59,293.72 30.05,294.91 C30.51,296.10 31.27,296.25 31.50,296.50 Z" fill="#cfcfcf" fill-opacity="1.0" stroke="#9c9c9c" stroke-width="0.7" stroke-linejoin="round"/>
<path d="M21.80,296.50 C22.10,296.20 23.09,296.03 23.70,294.63 C24.31,293.23 25.03,290.86 25.60,287.76 C26.17,284.67 26.81,278.53 27.27,275.28 C27.73,272.04 28.15,269.08 28.49,267.48 C28.83,265.89 29.14,265.30 29.40,265.30 C29.66,265.30 29.87,265.89 30.14,267.48 C30.42,269.08 30.76,272.04 31.14,275.28 C31.51,278.53 32.03,284.67 32.50,287.76 C32.97,290.86 33.55,293.23 34.05,294.63 C34.55,296.03 35.35,296.20 35.60,296.50 Z" fill="#1f5a94" fill-opacity="0.44" stroke="#1f5a94" stroke-width="0.7" stroke-linejoin="round"/>
<path d="M73.50,296.50 C73.72,296.11 74.42,295.88 74.85,294.07 C75.28,292.26 75.79,289.18 76.20,285.16 C76.61,281.14 77.06,273.17 77.39,268.96 C77.72,264.75 78.01,260.91 78.25,258.83 C78.49,256.76 78.69,256.00 78.90,256.00 C79.11,256.00 79.33,256.76 79.58,258.83 C79.84,260.91 80.15,264.75 80.50,268.96 C80.84,273.17 81.32,281.14 81.75,285.16 C82.18,289.18 82.72,292.26 83.17,294.07 C83.63,295.88 84.37,296.11 84.60,296.50 Z" fill="#cfcfcf" fill-opacity="1.0" stroke="#9c9c9c" stroke-width="0.7" stroke-linejoin="round"/>
<path d="M75.70,296.50 C76.02,296.16 77.06,295.97 77.70,294.39 C78.34,292.82 79.10,290.15 79.70,286.67 C80.30,283.19 80.97,276.28 81.46,272.63 C81.95,268.98 82.38,265.65 82.74,263.86 C83.10,262.06 83.37,261.40 83.70,261.40 C84.03,261.40 84.40,262.06 84.82,263.86 C85.23,265.65 85.74,268.98 86.30,272.63 C86.87,276.28 87.65,283.19 88.35,286.67 C89.05,290.15 89.93,292.82 90.67,294.39 C91.42,295.97 92.63,296.16 93.00,296.50 Z" fill="#1f5a94" fill-opacity="0.44" stroke="#1f5a94" stroke-width="0.7" stroke-linejoin="round"/>
<path d="M126.20,296.50 C126.39,296.07 127.00,295.82 127.38,293.81 C127.75,291.80 128.20,288.40 128.55,283.96 C128.90,279.51 129.30,270.70 129.58,266.04 C129.87,261.38 130.13,257.13 130.34,254.84 C130.55,252.54 130.68,251.70 130.90,251.70 C131.12,251.70 131.40,252.54 131.70,254.84 C132.00,257.13 132.37,261.38 132.78,266.04 C133.18,270.70 133.75,279.51 134.25,283.96 C134.75,288.40 135.39,291.80 135.93,293.81 C136.46,295.82 137.33,296.07 137.60,296.50 Z" fill="#cfcfcf" fill-opacity="1.0" stroke="#9c9c9c" stroke-width="0.7" stroke-linejoin="round"/>
<path d="M126.60,296.50 C126.90,295.78 127.96,294.64 128.50,292.00 C129.04,289.36 129.55,284.00 130.00,280.00 C130.45,276.00 130.90,270.28 131.30,267.00 C131.70,263.72 132.12,261.16 132.50,259.50 C132.88,257.84 133.33,256.68 133.70,256.60 C134.07,256.52 134.43,257.50 134.80,259.00 C135.17,260.50 135.60,263.84 136.00,266.00 C136.40,268.16 136.88,270.85 137.30,272.50 C137.72,274.15 138.14,275.32 138.60,276.30 C139.06,277.28 139.66,277.82 140.20,278.60 C140.74,279.38 141.46,281.30 142.00,281.20 C142.54,281.10 143.12,279.39 143.60,278.00 C144.08,276.61 144.66,273.62 145.00,272.50 C145.34,271.38 145.44,270.76 145.70,271.00 C145.96,271.24 146.30,272.80 146.60,274.00 C146.90,275.20 147.30,277.46 147.60,278.50 C147.90,279.54 148.18,279.14 148.50,280.50 C148.82,281.86 149.23,284.92 149.60,287.00 C149.97,289.08 150.38,291.98 150.80,293.50 C151.22,295.02 151.98,296.02 152.20,296.50 Z" fill="#1f5a94" fill-opacity="0.44" stroke="#1f5a94" stroke-width="0.7" stroke-linejoin="round"/>
<path d="M180.90,296.50 C181.04,296.06 181.48,295.80 181.75,293.72 C182.02,291.65 182.34,288.13 182.60,283.54 C182.86,278.94 183.14,269.83 183.35,265.02 C183.55,260.20 183.74,255.81 183.89,253.44 C184.04,251.07 184.12,250.20 184.30,250.20 C184.48,250.20 184.76,251.07 185.03,253.44 C185.31,255.81 185.64,260.20 186.01,265.02 C186.38,269.83 186.89,278.94 187.35,283.54 C187.81,288.13 188.39,291.65 188.88,293.72 C189.36,295.80 190.16,296.06 190.40,296.50 Z" fill="#cfcfcf" fill-opacity="1.0" stroke="#9c9c9c" stroke-width="0.7" stroke-linejoin="round"/>
<path d="M182.40,296.50 C182.66,295.86 183.49,294.50 184.00,292.50 C184.51,290.50 185.09,286.64 185.60,284.00 C186.11,281.36 186.69,278.24 187.20,276.00 C187.71,273.76 188.32,271.34 188.80,270.00 C189.28,268.66 189.77,267.60 190.20,267.60 C190.63,267.60 191.08,269.30 191.50,270.00 C191.92,270.70 192.43,271.20 192.80,272.00 C193.17,272.80 193.42,273.80 193.80,275.00 C194.18,276.20 194.75,278.41 195.20,279.50 C195.65,280.59 196.15,281.88 196.60,281.80 C197.05,281.72 197.55,281.21 198.00,279.00 C198.45,276.79 198.98,271.52 199.40,268.00 C199.82,264.48 200.25,259.53 200.60,257.00 C200.95,254.47 201.30,252.20 201.60,252.20 C201.90,252.20 202.18,254.15 202.50,257.00 C202.82,259.85 203.23,265.52 203.60,270.00 C203.97,274.48 204.45,281.32 204.80,285.00 C205.15,288.68 205.45,291.16 205.80,293.00 C206.15,294.84 206.81,295.94 207.00,296.50 Z" fill="#1f5a94" fill-opacity="0.44" stroke="#1f5a94" stroke-width="0.7" stroke-linejoin="round"/>
<path d="M232.80,296.50 C233.00,296.05 233.63,295.79 234.03,293.70 C234.42,291.61 234.88,288.06 235.25,283.42 C235.62,278.79 236.03,269.60 236.33,264.74 C236.63,259.89 236.89,255.46 237.11,253.07 C237.33,250.68 237.43,249.80 237.70,249.80 C237.97,249.80 238.38,250.68 238.79,253.07 C239.20,255.46 239.69,259.89 240.25,264.74 C240.80,269.60 241.57,278.79 242.25,283.42 C242.93,288.06 243.80,291.61 244.53,293.70 C245.25,295.79 246.44,296.05 246.80,296.50 Z" fill="#cfcfcf" fill-opacity="1.0" stroke="#9c9c9c" stroke-width="0.7" stroke-linejoin="round"/>
<path d="M232.40,296.50 C232.62,296.05 233.34,295.78 233.78,293.67 C234.22,291.56 234.74,287.98 235.15,283.31 C235.56,278.64 236.03,269.37 236.36,264.47 C236.69,259.57 236.99,255.11 237.24,252.70 C237.49,250.29 237.60,249.40 237.90,249.40 C238.20,249.40 238.64,250.29 239.09,252.70 C239.53,255.11 240.07,259.57 240.67,264.47 C241.27,269.37 242.11,278.64 242.85,283.31 C243.59,287.98 244.53,291.56 245.33,293.67 C246.12,295.78 247.40,296.05 247.80,296.50 Z" fill="#1f5a94" fill-opacity="0.52" stroke="#1f5a94" stroke-width="0.7" stroke-linejoin="round"/>
<path d="M288.10,296.50 C288.19,296.06 288.47,295.81 288.65,293.76 C288.83,291.71 289.03,288.24 289.20,283.70 C289.37,279.17 289.55,270.18 289.68,265.42 C289.82,260.67 289.94,256.34 290.04,254.00 C290.13,251.66 290.20,250.80 290.30,250.80 C290.40,250.80 290.51,251.66 290.64,254.00 C290.76,256.34 290.91,260.67 291.08,265.42 C291.25,270.18 291.49,279.17 291.70,283.70 C291.91,288.24 292.18,291.71 292.40,293.76 C292.62,295.81 292.99,296.06 293.10,296.50 Z" fill="#cfcfcf" fill-opacity="1.0" stroke="#9c9c9c" stroke-width="0.7" stroke-linejoin="round"/>
<path d="M289.60,296.50 C289.82,295.62 290.55,293.32 291.00,291.00 C291.45,288.68 291.95,284.48 292.40,282.00 C292.85,279.52 293.35,277.04 293.80,275.50 C294.25,273.96 294.80,273.18 295.20,272.40 C295.60,271.62 295.96,270.50 296.30,270.60 C296.64,270.70 296.93,271.66 297.30,273.00 C297.67,274.34 298.17,276.84 298.60,279.00 C299.03,281.16 299.54,284.37 300.00,286.50 C300.46,288.63 300.99,290.91 301.50,292.30 C302.01,293.69 302.64,294.56 303.20,295.20 C303.76,295.84 304.46,296.33 305.00,296.30 C305.54,296.27 306.15,295.85 306.60,295.00 C307.05,294.15 307.45,293.40 307.80,291.00 C308.15,288.60 308.48,284.32 308.80,280.00 C309.12,275.68 309.51,268.32 309.80,264.00 C310.09,259.68 310.39,255.30 310.60,253.00 C310.81,250.70 310.91,249.52 311.10,249.60 C311.29,249.68 311.56,250.88 311.80,253.50 C312.04,256.12 312.33,261.44 312.60,266.00 C312.87,270.56 313.21,277.76 313.50,282.00 C313.79,286.24 314.06,290.18 314.40,292.50 C314.74,294.82 315.41,295.86 315.60,296.50 Z" fill="#1f5a94" fill-opacity="0.44" stroke="#1f5a94" stroke-width="0.7" stroke-linejoin="round"/>
<path d="M342.00,296.50 C342.08,296.06 342.36,295.81 342.52,293.76 C342.69,291.71 342.89,288.24 343.05,283.70 C343.21,279.17 343.38,270.18 343.51,265.42 C343.64,260.67 343.75,256.34 343.85,254.00 C343.94,251.66 344.01,250.80 344.10,250.80 C344.19,250.80 344.31,251.66 344.44,254.00 C344.56,256.34 344.71,260.67 344.88,265.42 C345.05,270.18 345.29,279.17 345.50,283.70 C345.71,288.24 345.98,291.71 346.20,293.76 C346.42,295.81 346.79,296.06 346.90,296.50 Z" fill="#cfcfcf" fill-opacity="1.0" stroke="#9c9c9c" stroke-width="0.7" stroke-linejoin="round"/>
<path d="M344.20,296.50 C344.42,295.94 345.15,295.00 345.60,293.00 C346.05,291.00 346.55,287.52 347.00,284.00 C347.45,280.48 347.95,274.92 348.40,271.00 C348.85,267.08 349.38,262.38 349.80,259.50 C350.22,256.62 350.62,254.41 351.00,253.00 C351.38,251.59 351.82,250.78 352.20,250.70 C352.58,250.62 353.02,251.33 353.40,252.50 C353.78,253.67 354.18,255.52 354.60,258.00 C355.02,260.48 355.55,264.64 356.00,268.00 C356.45,271.36 356.95,275.88 357.40,279.00 C357.85,282.12 358.32,285.29 358.80,287.50 C359.28,289.71 359.82,291.57 360.40,292.80 C360.98,294.03 361.58,294.61 362.40,295.20 C363.22,295.79 365.00,296.29 365.50,296.50 Z" fill="#1f5a94" fill-opacity="0.44" stroke="#1f5a94" stroke-width="0.7" stroke-linejoin="round"/>
<rect x="13.30" y="246.6" width="51.4" height="50.50000000000003" fill="none" stroke="#0a0a0a" stroke-width="1.15"/>
<text x="39.00" y="240.60" font-size="7.49" text-anchor="middle" font-weight="normal" font-style="normal" fill="#111" textLength="24.37" lengthAdjust="spacingAndGlyphs" >LT-HSC</text>
<rect x="66.85" y="246.6" width="51.4" height="50.50000000000003" fill="none" stroke="#0a0a0a" stroke-width="1.15"/>
<text x="92.55" y="240.60" font-size="7.49" text-anchor="middle" font-weight="normal" font-style="normal" fill="#111" textLength="14.78" lengthAdjust="spacingAndGlyphs" >HPC</text>
<rect x="120.40" y="246.6" width="51.4" height="50.50000000000003" fill="none" stroke="#0a0a0a" stroke-width="1.15"/>
<text x="146.10" y="240.60" font-size="7.49" text-anchor="middle" font-weight="normal" font-style="normal" fill="#111" textLength="15.56" lengthAdjust="spacingAndGlyphs" >CMP</text>
<rect x="173.95" y="246.6" width="51.4" height="50.50000000000003" fill="none" stroke="#0a0a0a" stroke-width="1.15"/>
<text x="199.65" y="240.60" font-size="7.49" text-anchor="middle" font-weight="normal" font-style="normal" fill="#111" textLength="15.94" lengthAdjust="spacingAndGlyphs" >GMP</text>
<rect x="227.50" y="246.6" width="51.4" height="50.50000000000003" fill="none" stroke="#0a0a0a" stroke-width="1.15"/>
<text x="253.20" y="240.60" font-size="7.49" text-anchor="middle" font-weight="normal" font-style="normal" fill="#111" textLength="15.17" lengthAdjust="spacingAndGlyphs" >MEP</text>
<rect x="281.05" y="246.6" width="51.4" height="50.50000000000003" fill="none" stroke="#0a0a0a" stroke-width="1.15"/>
<text x="285.40" y="240.6" font-size="7.3" text-anchor="start" fill="#111">CD11b<tspan font-size="5.2" dy="-2.4">+</tspan><tspan dy="2.4">Gr1</tspan><tspan font-size="5.3" dy="-2.6">low</tspan></text>
<rect x="334.60" y="246.6" width="51.4" height="50.50000000000003" fill="none" stroke="#0a0a0a" stroke-width="1.15"/>
<text x="337.60" y="240.6" font-size="7.3" text-anchor="start" fill="#111">CD11b<tspan font-size="5.2" dy="-2.4">+</tspan><tspan dy="2.4">Gr1</tspan><tspan font-size="5.3" dy="-2.6">high</tspan></text>
<line x1="29.40" y1="251.60" x2="40.10" y2="251.60" stroke="#7d7d7d" stroke-width="1.0" />
<text x="41.90" y="254.00" font-size="6.90" text-anchor="start" font-weight="normal" font-style="normal" fill="#111"  textLength="20.6" lengthAdjust="spacingAndGlyphs">Isotype</text>
<line x1="29.40" y1="261.50" x2="40.10" y2="261.50" stroke="#1f5a94" stroke-width="1.3" />
<text x="41.70" y="264.00" font-size="6.90" text-anchor="start" font-weight="normal" font-style="normal" fill="#111"  textLength="21.6" lengthAdjust="spacingAndGlyphs">CD126</text>
<line x1="13.40" y1="306.00" x2="22.50" y2="306.00" stroke="#000" stroke-width="1.0" />
<path d="M25.8,306 L21.4,303.9 L22.3,306 L21.4,308.1 Z" fill="#000"/>
<text x="30.00" y="308.50" font-size="7.00" text-anchor="start" font-weight="normal" font-style="normal" fill="#111"  textLength="48.8" lengthAdjust="spacingAndGlyphs">CD126 (IL-6Rα)</text>
<text transform="translate(4.30,360.80) scale(1.1,1)" font-size="10.2" font-weight="bold" fill="#000">E</text>
<path d="M17.50,424.70 C17.90,424.11 19.28,422.55 20.00,421.00 C20.72,419.45 21.36,417.40 22.00,415.00 C22.64,412.60 23.42,408.72 24.00,406.00 C24.58,403.28 25.18,400.08 25.60,398.00 C26.02,395.92 26.34,394.06 26.60,393.00 C26.86,391.94 26.99,391.40 27.20,391.40 C27.41,391.40 27.64,391.78 27.90,393.00 C28.16,394.22 28.50,396.60 28.80,399.00 C29.10,401.40 29.48,405.28 29.80,408.00 C30.12,410.72 30.48,413.84 30.80,416.00 C31.12,418.16 31.45,420.11 31.80,421.50 C32.15,422.89 32.81,424.19 33.00,424.70 Z" fill="#cfcfcf" fill-opacity="1.0" stroke="#9c9c9c" stroke-width="0.7" stroke-linejoin="round"/>
<path d="M31.40,424.70 C31.65,424.43 32.45,424.27 32.95,423.00 C33.45,421.72 34.03,419.57 34.50,416.75 C34.97,413.93 35.49,408.34 35.86,405.39 C36.24,402.43 36.58,399.74 36.86,398.29 C37.13,396.83 37.37,396.30 37.60,396.30 C37.83,396.30 38.05,396.83 38.32,398.29 C38.59,399.74 38.92,402.43 39.28,405.39 C39.64,408.34 40.15,413.93 40.60,416.75 C41.05,419.57 41.62,421.72 42.10,423.00 C42.58,424.27 43.36,424.43 43.60,424.70 Z" fill="#d4143c" fill-opacity="0.42" stroke="#c8143c" stroke-width="0.7" stroke-linejoin="round"/>
<path d="M71.20,424.70 C71.49,423.95 72.46,422.35 73.00,420.00 C73.54,417.65 74.12,413.36 74.60,410.00 C75.08,406.64 75.62,401.64 76.00,399.00 C76.38,396.36 76.74,394.54 77.00,393.50 C77.26,392.46 77.38,392.34 77.60,392.50 C77.82,392.66 78.08,393.14 78.40,394.50 C78.72,395.86 79.18,398.68 79.60,401.00 C80.02,403.32 80.52,406.52 81.00,409.00 C81.48,411.48 82.09,414.50 82.60,416.50 C83.11,418.50 83.66,420.19 84.20,421.50 C84.74,422.81 85.71,424.19 86.00,424.70 Z" fill="#cfcfcf" fill-opacity="1.0" stroke="#9c9c9c" stroke-width="0.7" stroke-linejoin="round"/>
<path d="M80.60,424.70 C80.92,424.19 82.02,423.05 82.60,421.50 C83.18,419.95 83.72,417.64 84.20,415.00 C84.68,412.36 85.18,408.04 85.60,405.00 C86.02,401.96 86.45,398.48 86.80,396.00 C87.15,393.52 87.51,391.07 87.80,389.50 C88.09,387.93 88.38,386.31 88.60,386.20 C88.82,386.09 89.01,387.87 89.20,388.80 C89.39,389.73 89.58,390.85 89.80,392.00 C90.02,393.15 90.31,394.24 90.60,396.00 C90.89,397.76 91.25,400.60 91.60,403.00 C91.95,405.40 92.38,408.60 92.80,411.00 C93.22,413.40 93.72,416.16 94.20,418.00 C94.68,419.84 95.19,421.43 95.80,422.50 C96.41,423.57 97.65,424.35 98.00,424.70 Z" fill="#d4143c" fill-opacity="0.42" stroke="#c8143c" stroke-width="0.7" stroke-linejoin="round"/>
<path d="M122.30,424.70 C122.57,423.95 123.47,422.35 124.00,420.00 C124.53,417.65 125.09,413.84 125.60,410.00 C126.11,406.16 126.72,400.00 127.20,396.00 C127.68,392.00 128.18,387.53 128.60,385.00 C129.02,382.47 129.45,380.36 129.80,380.20 C130.15,380.04 130.45,381.95 130.80,384.00 C131.15,386.05 131.58,389.80 132.00,393.00 C132.42,396.20 132.95,400.64 133.40,404.00 C133.85,407.36 134.35,411.28 134.80,414.00 C135.25,416.72 135.72,419.29 136.20,421.00 C136.68,422.71 137.54,424.11 137.80,424.70 Z" fill="#cfcfcf" fill-opacity="1.0" stroke="#9c9c9c" stroke-width="0.7" stroke-linejoin="round"/>
<path d="M124.60,424.70 C124.92,424.27 126.02,423.07 126.60,422.00 C127.18,420.93 127.69,419.68 128.20,418.00 C128.71,416.32 129.35,413.42 129.80,411.50 C130.25,409.58 130.65,407.92 131.00,406.00 C131.35,404.08 131.74,401.10 132.00,399.50 C132.26,397.90 132.39,396.98 132.60,396.00 C132.81,395.02 133.09,393.56 133.30,393.40 C133.51,393.24 133.69,395.16 133.90,395.00 C134.11,394.84 134.33,393.04 134.60,392.40 C134.87,391.76 135.31,391.78 135.60,391.00 C135.89,390.22 136.13,388.59 136.40,387.50 C136.67,386.41 136.98,384.89 137.30,384.20 C137.62,383.51 138.06,383.14 138.40,383.20 C138.74,383.26 139.11,384.57 139.40,384.60 C139.69,384.63 139.90,383.66 140.20,383.40 C140.50,383.14 141.03,382.58 141.30,383.00 C141.57,383.42 141.71,384.96 141.90,386.00 C142.09,387.04 142.23,387.58 142.50,389.50 C142.77,391.42 143.23,395.10 143.60,398.00 C143.97,400.90 144.42,404.78 144.80,407.60 C145.18,410.42 145.55,413.39 146.00,415.60 C146.45,417.81 147.09,420.12 147.60,421.40 C148.11,422.68 148.69,423.07 149.20,423.60 C149.71,424.13 150.54,424.52 150.80,424.70 Z" fill="#d4143c" fill-opacity="0.42" stroke="#c8143c" stroke-width="0.7" stroke-linejoin="round"/>
<path d="M177.00,424.70 C177.29,423.95 178.26,422.35 178.80,420.00 C179.34,417.65 179.92,413.68 180.40,410.00 C180.88,406.32 181.38,400.84 181.80,397.00 C182.22,393.16 182.63,388.69 183.00,386.00 C183.37,383.31 183.75,380.36 184.10,380.20 C184.45,380.04 184.80,382.79 185.20,385.00 C185.60,387.21 186.15,390.96 186.60,394.00 C187.05,397.04 187.52,400.80 188.00,404.00 C188.48,407.20 189.12,411.28 189.60,414.00 C190.08,416.72 190.52,419.29 191.00,421.00 C191.48,422.71 192.34,424.11 192.60,424.70 Z" fill="#cfcfcf" fill-opacity="1.0" stroke="#9c9c9c" stroke-width="0.7" stroke-linejoin="round"/>
<path d="M179.20,424.70 C179.49,423.95 180.42,422.35 181.00,420.00 C181.58,417.65 182.26,413.52 182.80,410.00 C183.34,406.48 183.92,401.28 184.40,398.00 C184.88,394.72 185.40,391.42 185.80,389.50 C186.20,387.58 186.58,386.43 186.90,386.00 C187.22,385.57 187.50,387.06 187.80,386.80 C188.10,386.54 188.48,384.94 188.80,384.40 C189.12,383.86 189.48,383.24 189.80,383.40 C190.12,383.56 190.48,385.02 190.80,385.40 C191.12,385.78 191.48,386.09 191.80,385.80 C192.12,385.51 192.51,383.41 192.80,383.60 C193.09,383.79 193.31,385.74 193.60,387.00 C193.89,388.26 194.31,390.48 194.60,391.50 C194.89,392.52 195.14,392.52 195.40,393.40 C195.66,394.28 195.88,395.30 196.20,397.00 C196.52,398.70 197.02,401.76 197.40,404.00 C197.78,406.24 198.22,408.86 198.60,411.00 C198.98,413.14 199.38,415.72 199.80,417.40 C200.22,419.08 200.66,420.33 201.20,421.50 C201.74,422.67 202.88,424.19 203.20,424.70 Z" fill="#d4143c" fill-opacity="0.42" stroke="#c8143c" stroke-width="0.7" stroke-linejoin="round"/>
<path d="M229.80,424.70 C230.11,424.27 231.11,424.02 231.73,422.01 C232.34,419.99 233.07,416.58 233.65,412.13 C234.23,407.67 234.88,398.84 235.34,394.17 C235.81,389.50 236.23,385.24 236.58,382.94 C236.92,380.64 237.18,379.80 237.50,379.80 C237.82,379.80 238.18,380.64 238.59,382.94 C239.00,385.24 239.49,389.50 240.05,394.17 C240.60,398.84 241.37,407.67 242.05,412.13 C242.73,416.58 243.60,419.99 244.32,422.01 C245.05,424.02 246.24,424.27 246.60,424.70 Z" fill="#cfcfcf" fill-opacity="1.0" stroke="#9c9c9c" stroke-width="0.7" stroke-linejoin="round"/>
<path d="M229.50,424.70 C229.84,424.27 230.93,424.03 231.60,422.04 C232.27,420.05 233.07,416.67 233.70,412.27 C234.33,407.86 235.04,399.13 235.55,394.51 C236.06,389.89 236.52,385.68 236.89,383.41 C237.27,381.13 237.55,380.30 237.90,380.30 C238.25,380.30 238.64,381.13 239.09,383.41 C239.53,385.68 240.07,389.89 240.67,394.51 C241.27,399.13 242.11,407.86 242.85,412.27 C243.59,416.67 244.53,420.05 245.33,422.04 C246.12,424.03 247.40,424.27 247.80,424.70 Z" fill="#d4143c" fill-opacity="0.5" stroke="#c8143c" stroke-width="0.7" stroke-linejoin="round"/>
<path d="M285.80,424.70 C285.94,424.26 286.38,424.00 286.65,421.93 C286.92,419.87 287.24,416.37 287.50,411.79 C287.76,407.22 288.04,398.15 288.25,393.35 C288.45,388.56 288.64,384.19 288.79,381.83 C288.94,379.47 289.06,378.60 289.20,378.60 C289.34,378.60 289.50,379.47 289.68,381.83 C289.86,384.19 290.08,388.56 290.32,393.35 C290.56,398.15 290.90,407.22 291.20,411.79 C291.50,416.37 291.88,419.87 292.20,421.93 C292.52,424.00 293.04,424.26 293.20,424.70 Z" fill="#cfcfcf" fill-opacity="1.0" stroke="#9c9c9c" stroke-width="0.7" stroke-linejoin="round"/>
<path d="M285.40,424.70 C285.59,423.63 286.25,421.47 286.60,418.00 C286.95,414.53 287.28,408.12 287.60,403.00 C287.92,397.88 288.31,389.98 288.60,386.00 C288.89,382.02 289.14,378.42 289.40,378.10 C289.66,377.78 289.91,380.98 290.20,384.00 C290.49,387.02 290.85,393.00 291.20,397.00 C291.55,401.00 292.05,405.96 292.40,409.00 C292.75,412.04 293.10,414.46 293.40,416.00 C293.70,417.54 293.98,418.44 294.30,418.60 C294.62,418.76 295.00,417.98 295.40,417.00 C295.80,416.02 296.32,413.94 296.80,412.50 C297.28,411.06 297.89,409.14 298.40,408.00 C298.91,406.86 299.54,405.96 300.00,405.40 C300.46,404.84 300.88,404.32 301.30,404.50 C301.72,404.68 302.17,405.46 302.60,406.50 C303.03,407.54 303.52,409.40 304.00,411.00 C304.48,412.60 305.06,414.90 305.60,416.50 C306.14,418.10 306.82,419.86 307.40,421.00 C307.98,422.14 308.66,423.01 309.20,423.60 C309.74,424.19 310.54,424.52 310.80,424.70 Z" fill="#d4143c" fill-opacity="0.42" stroke="#c8143c" stroke-width="0.7" stroke-linejoin="round"/>
<path d="M339.80,424.70 C339.93,424.25 340.34,423.99 340.60,421.90 C340.86,419.81 341.16,416.26 341.40,411.62 C341.64,406.99 341.91,397.80 342.10,392.94 C342.30,388.09 342.47,383.66 342.62,381.27 C342.76,378.88 342.86,378.00 343.00,378.00 C343.14,378.00 343.30,378.88 343.48,381.27 C343.66,383.66 343.88,388.09 344.12,392.94 C344.36,397.80 344.70,406.99 345.00,411.62 C345.30,416.26 345.68,419.81 346.00,421.90 C346.32,423.99 346.84,424.25 347.00,424.70 Z" fill="#cfcfcf" fill-opacity="1.0" stroke="#9c9c9c" stroke-width="0.7" stroke-linejoin="round"/>
<path d="M339.20,424.70 C339.42,423.79 340.22,422.63 340.60,419.00 C340.98,415.37 341.31,407.44 341.60,402.00 C341.89,396.56 342.18,388.95 342.40,385.00 C342.62,381.05 342.79,377.62 343.00,377.30 C343.21,376.98 343.44,380.01 343.70,383.00 C343.96,385.99 344.30,392.00 344.60,396.00 C344.90,400.00 345.25,404.72 345.60,408.00 C345.95,411.28 346.38,414.42 346.80,416.50 C347.22,418.58 347.66,419.93 348.20,421.00 C348.74,422.07 349.43,422.72 350.20,423.20 C350.97,423.68 351.94,423.76 353.00,424.00 C354.06,424.24 356.19,424.59 356.80,424.70 Z" fill="#d4143c" fill-opacity="0.42" stroke="#c8143c" stroke-width="0.7" stroke-linejoin="round"/>
<rect x="13.30" y="374.5" width="51.4" height="50.80000000000001" fill="none" stroke="#0a0a0a" stroke-width="1.15"/>
<text x="39.00" y="369.00" font-size="7.49" text-anchor="middle" font-weight="normal" font-style="normal" fill="#111" textLength="24.37" lengthAdjust="spacingAndGlyphs" >LT-HSC</text>
<rect x="66.85" y="374.5" width="51.4" height="50.80000000000001" fill="none" stroke="#0a0a0a" stroke-width="1.15"/>
<text x="92.55" y="369.00" font-size="7.49" text-anchor="middle" font-weight="normal" font-style="normal" fill="#111" textLength="14.78" lengthAdjust="spacingAndGlyphs" >HPC</text>
<rect x="120.40" y="374.5" width="51.4" height="50.80000000000001" fill="none" stroke="#0a0a0a" stroke-width="1.15"/>
<text x="146.10" y="369.00" font-size="7.49" text-anchor="middle" font-weight="normal" font-style="normal" fill="#111" textLength="15.56" lengthAdjust="spacingAndGlyphs" >CMP</text>
<rect x="173.95" y="374.5" width="51.4" height="50.80000000000001" fill="none" stroke="#0a0a0a" stroke-width="1.15"/>
<text x="199.65" y="369.00" font-size="7.49" text-anchor="middle" font-weight="normal" font-style="normal" fill="#111" textLength="15.94" lengthAdjust="spacingAndGlyphs" >GMP</text>
<rect x="227.50" y="374.5" width="51.4" height="50.80000000000001" fill="none" stroke="#0a0a0a" stroke-width="1.15"/>
<text x="253.20" y="369.00" font-size="7.49" text-anchor="middle" font-weight="normal" font-style="normal" fill="#111" textLength="15.17" lengthAdjust="spacingAndGlyphs" >MEP</text>
<rect x="281.05" y="374.5" width="51.4" height="50.80000000000001" fill="none" stroke="#0a0a0a" stroke-width="1.15"/>
<text x="285.40" y="369.0" font-size="7.3" text-anchor="start" fill="#111">CD11b<tspan font-size="5.2" dy="-2.4">+</tspan><tspan dy="2.4">Gr1</tspan><tspan font-size="5.3" dy="-2.6">low</tspan></text>
<rect x="334.60" y="374.5" width="51.4" height="50.80000000000001" fill="none" stroke="#0a0a0a" stroke-width="1.15"/>
<text x="337.60" y="369.0" font-size="7.3" text-anchor="start" fill="#111">CD11b<tspan font-size="5.2" dy="-2.4">+</tspan><tspan dy="2.4">Gr1</tspan><tspan font-size="5.3" dy="-2.6">high</tspan></text>
<line x1="28.60" y1="381.40" x2="39.20" y2="381.40" stroke="#7d7d7d" stroke-width="1.0" />
<text x="41.20" y="383.80" font-size="6.90" text-anchor="start" font-weight="normal" font-style="normal" fill="#111"  textLength="20.6" lengthAdjust="spacingAndGlyphs">Isotype</text>
<line x1="28.60" y1="390.60" x2="39.20" y2="390.60" stroke="#c8143c" stroke-width="1.3" />
<text x="41.00" y="393.10" font-size="6.90" text-anchor="start" font-weight="normal" font-style="normal" fill="#111"  textLength="21.6" lengthAdjust="spacingAndGlyphs">CD130</text>
<line x1="13.40" y1="434.90" x2="22.50" y2="434.90" stroke="#000" stroke-width="1.0" />
<path d="M25.8,434.9 L21.4,432.8 L22.3,434.9 L21.4,437 Z" fill="#000"/>
<text x="30.20" y="437.30" font-size="7.00" text-anchor="start" font-weight="normal" font-style="normal" fill="#111"  textLength="48.4" lengthAdjust="spacingAndGlyphs">CD130 (gp130)</text>
<text x="471.40" y="211.30" font-size="8.03" text-anchor="middle" font-weight="normal" font-style="normal" fill="#111" textLength="23.35" lengthAdjust="spacingAndGlyphs" >CD126</text>
<line x1="439.20" y1="293.27" x2="439.20" y2="292.84" stroke="#000" stroke-width="0.7" />
<line x1="437.20" y1="292.84" x2="441.20" y2="292.84" stroke="#000" stroke-width="0.7" />
<rect x="435.60" y="293.27" width="7.20" height="8.73" fill="#1f5a94" stroke="#111" stroke-width="0.6"/>
<line x1="449.50" y1="282.48" x2="449.50" y2="281.91" stroke="#000" stroke-width="0.7" />
<line x1="447.50" y1="281.91" x2="451.50" y2="281.91" stroke="#000" stroke-width="0.7" />
<rect x="445.90" y="282.48" width="7.20" height="19.52" fill="#1f5a94" stroke="#111" stroke-width="0.6"/>
<line x1="459.80" y1="269.48" x2="459.80" y2="265.08" stroke="#000" stroke-width="0.7" />
<line x1="457.80" y1="265.08" x2="461.80" y2="265.08" stroke="#000" stroke-width="0.7" />
<rect x="456.20" y="269.48" width="7.20" height="32.52" fill="#1f5a94" stroke="#111" stroke-width="0.6"/>
<line x1="470.10" y1="232.49" x2="470.10" y2="228.23" stroke="#000" stroke-width="0.7" />
<line x1="468.10" y1="228.23" x2="472.10" y2="228.23" stroke="#000" stroke-width="0.7" />
<rect x="466.50" y="232.49" width="7.20" height="69.51" fill="#1f5a94" stroke="#111" stroke-width="0.6"/>
<line x1="480.40" y1="301.43" x2="480.40" y2="301.29" stroke="#000" stroke-width="0.7" />
<line x1="478.40" y1="301.29" x2="482.40" y2="301.29" stroke="#000" stroke-width="0.7" />
<rect x="476.80" y="301.43" width="7.20" height="0.57" fill="#1f5a94" stroke="#111" stroke-width="0.6"/>
<line x1="490.70" y1="260.75" x2="490.70" y2="256.35" stroke="#000" stroke-width="0.7" />
<line x1="488.70" y1="256.35" x2="492.70" y2="256.35" stroke="#000" stroke-width="0.7" />
<rect x="487.10" y="260.75" width="7.20" height="41.25" fill="#1f5a94" stroke="#111" stroke-width="0.6"/>
<line x1="501.00" y1="273.25" x2="501.00" y2="270.55" stroke="#000" stroke-width="0.7" />
<line x1="499.00" y1="270.55" x2="503.00" y2="270.55" stroke="#000" stroke-width="0.7" />
<rect x="497.40" y="273.25" width="7.20" height="28.75" fill="#1f5a94" stroke="#111" stroke-width="0.6"/>
<line x1="433.35" y1="216.60" x2="433.35" y2="302.60" stroke="#000" stroke-width="1.2" />
<line x1="433.35" y1="302.00" x2="508.00" y2="302.00" stroke="#000" stroke-width="1.2" />
<line x1="430.85" y1="287.80" x2="433.35" y2="287.80" stroke="#000" stroke-width="0.9" />
<text x="430.10" y="290.20" font-size="6.96" text-anchor="end" font-weight="normal" font-style="normal" fill="#111" textLength="10.85" lengthAdjust="spacingAndGlyphs" stroke="#111" stroke-width="0.18">200</text>
<line x1="430.85" y1="273.60" x2="433.35" y2="273.60" stroke="#000" stroke-width="0.9" />
<text x="430.10" y="276.00" font-size="6.96" text-anchor="end" font-weight="normal" font-style="normal" fill="#111" textLength="10.85" lengthAdjust="spacingAndGlyphs" stroke="#111" stroke-width="0.18">400</text>
<line x1="430.85" y1="259.40" x2="433.35" y2="259.40" stroke="#000" stroke-width="0.9" />
<text x="430.10" y="261.80" font-size="6.96" text-anchor="end" font-weight="normal" font-style="normal" fill="#111" textLength="10.85" lengthAdjust="spacingAndGlyphs" stroke="#111" stroke-width="0.18">600</text>
<line x1="430.85" y1="245.20" x2="433.35" y2="245.20" stroke="#000" stroke-width="0.9" />
<text x="430.10" y="247.60" font-size="6.96" text-anchor="end" font-weight="normal" font-style="normal" fill="#111" textLength="10.85" lengthAdjust="spacingAndGlyphs" stroke="#111" stroke-width="0.18">800</text>
<line x1="430.85" y1="231.00" x2="433.35" y2="231.00" stroke="#000" stroke-width="0.9" />
<text x="430.30" y="233.40" font-size="6.90" text-anchor="end" font-weight="normal" font-style="normal" fill="#111"  stroke="#111" stroke-width="0.18" textLength="15.9" lengthAdjust="spacingAndGlyphs">1’000</text>
<line x1="430.85" y1="216.80" x2="433.35" y2="216.80" stroke="#000" stroke-width="0.9" />
<text x="430.30" y="219.20" font-size="6.90" text-anchor="end" font-weight="normal" font-style="normal" fill="#111"  stroke="#111" stroke-width="0.18" textLength="15.9" lengthAdjust="spacingAndGlyphs">1’200</text>
<text transform="translate(407.30,259.30) rotate(-90)" font-size="7.8" text-anchor="middle" fill="#111" stroke="#111" stroke-width="0.18" textLength="13.1" lengthAdjust="spacingAndGlyphs">ΔMFI</text>
<text transform="translate(441.60,309.30) rotate(-45)" font-size="7.1" text-anchor="end" fill="#111" stroke="#111" stroke-width="0.12">LT-HSC</text>
<text transform="translate(451.90,309.30) rotate(-45)" font-size="7.1" text-anchor="end" fill="#111" stroke="#111" stroke-width="0.12">HPC</text>
<text transform="translate(462.20,309.30) rotate(-45)" font-size="7.1" text-anchor="end" fill="#111" stroke="#111" stroke-width="0.12">CMP</text>
<text transform="translate(472.50,309.30) rotate(-45)" font-size="7.1" text-anchor="end" fill="#111" stroke="#111" stroke-width="0.12">GMP</text>
<text transform="translate(482.80,309.30) rotate(-45)" font-size="7.1" text-anchor="end" fill="#111" stroke="#111" stroke-width="0.12">MEP</text>
<text transform="translate(493.10,309.30) rotate(-45)" font-size="7.1" text-anchor="end" fill="#111" stroke="#111" stroke-width="0.12">Gr1<tspan font-size="4.6" dy="-2.0" dx="0.6">low</tspan></text>
<text transform="translate(503.40,309.30) rotate(-45)" font-size="7.1" text-anchor="end" fill="#111" stroke="#111" stroke-width="0.12">Gr1<tspan font-size="4.6" dy="-2.0" dx="0.6">high</tspan></text>
<text x="471.40" y="338.80" font-size="8.03" text-anchor="middle" font-weight="normal" font-style="normal" fill="#111" textLength="23.35" lengthAdjust="spacingAndGlyphs" >CD130</text>
<line x1="439.20" y1="359.48" x2="439.20" y2="357.66" stroke="#000" stroke-width="0.7" />
<line x1="437.20" y1="357.66" x2="441.20" y2="357.66" stroke="#000" stroke-width="0.7" />
<rect x="435.60" y="359.48" width="7.20" height="70.02" fill="#c8143c" stroke="#111" stroke-width="0.6"/>
<line x1="449.50" y1="388.00" x2="449.50" y2="386.29" stroke="#000" stroke-width="0.7" />
<line x1="447.50" y1="386.29" x2="451.50" y2="386.29" stroke="#000" stroke-width="0.7" />
<rect x="445.90" y="388.00" width="7.20" height="41.50" fill="#c8143c" stroke="#111" stroke-width="0.6"/>
<line x1="459.80" y1="408.75" x2="459.80" y2="404.21" stroke="#000" stroke-width="0.7" />
<line x1="457.80" y1="404.21" x2="461.80" y2="404.21" stroke="#000" stroke-width="0.7" />
<rect x="456.20" y="408.75" width="7.20" height="20.75" fill="#c8143c" stroke="#111" stroke-width="0.6"/>
<line x1="470.10" y1="418.27" x2="470.10" y2="415.78" stroke="#000" stroke-width="0.7" />
<line x1="468.10" y1="415.78" x2="472.10" y2="415.78" stroke="#000" stroke-width="0.7" />
<rect x="466.50" y="418.27" width="7.20" height="11.23" fill="#c8143c" stroke="#111" stroke-width="0.6"/>
<line x1="480.40" y1="428.71" x2="480.40" y2="428.42" stroke="#000" stroke-width="0.7" />
<line x1="478.40" y1="428.42" x2="482.40" y2="428.42" stroke="#000" stroke-width="0.7" />
<rect x="476.80" y="428.71" width="7.20" height="0.79" fill="#c8143c" stroke="#111" stroke-width="0.6"/>
<line x1="490.70" y1="424.51" x2="490.70" y2="423.60" stroke="#000" stroke-width="0.7" />
<line x1="488.70" y1="423.60" x2="492.70" y2="423.60" stroke="#000" stroke-width="0.7" />
<rect x="487.10" y="424.51" width="7.20" height="4.99" fill="#c8143c" stroke="#111" stroke-width="0.6"/>
<line x1="501.00" y1="428.82" x2="501.00" y2="428.59" stroke="#000" stroke-width="0.7" />
<line x1="499.00" y1="428.59" x2="503.00" y2="428.59" stroke="#000" stroke-width="0.7" />
<rect x="497.40" y="428.82" width="7.20" height="0.68" fill="#c8143c" stroke="#111" stroke-width="0.6"/>
<line x1="433.35" y1="344.20" x2="433.35" y2="430.10" stroke="#000" stroke-width="1.2" />
<line x1="433.35" y1="429.50" x2="508.00" y2="429.50" stroke="#000" stroke-width="1.2" />
<line x1="430.85" y1="401.15" x2="433.35" y2="401.15" stroke="#000" stroke-width="0.9" />
<text x="430.10" y="403.55" font-size="6.96" text-anchor="end" font-weight="normal" font-style="normal" fill="#111" textLength="10.85" lengthAdjust="spacingAndGlyphs" stroke="#111" stroke-width="0.18">500</text>
<line x1="430.85" y1="372.80" x2="433.35" y2="372.80" stroke="#000" stroke-width="0.9" />
<text x="430.30" y="375.20" font-size="6.90" text-anchor="end" font-weight="normal" font-style="normal" fill="#111"  stroke="#111" stroke-width="0.18" textLength="15.9" lengthAdjust="spacingAndGlyphs">1’000</text>
<line x1="430.85" y1="344.45" x2="433.35" y2="344.45" stroke="#000" stroke-width="0.9" />
<text x="430.30" y="346.85" font-size="6.90" text-anchor="end" font-weight="normal" font-style="normal" fill="#111"  stroke="#111" stroke-width="0.18" textLength="15.9" lengthAdjust="spacingAndGlyphs">1’500</text>
<text transform="translate(410.50,387.30) rotate(-90)" font-size="7.8" text-anchor="middle" fill="#111" stroke="#111" stroke-width="0.18" textLength="13.1" lengthAdjust="spacingAndGlyphs">ΔMFI</text>
<text transform="translate(441.60,436.80) rotate(-45)" font-size="7.1" text-anchor="end" fill="#111" stroke="#111" stroke-width="0.12">LT-HSC</text>
<text transform="translate(451.90,436.80) rotate(-45)" font-size="7.1" text-anchor="end" fill="#111" stroke="#111" stroke-width="0.12">HPC</text>
<text transform="translate(462.20,436.80) rotate(-45)" font-size="7.1" text-anchor="end" fill="#111" stroke="#111" stroke-width="0.12">CMP</text>
<text transform="translate(472.50,436.80) rotate(-45)" font-size="7.1" text-anchor="end" fill="#111" stroke="#111" stroke-width="0.12">GMP</text>
<text transform="translate(482.80,436.80) rotate(-45)" font-size="7.1" text-anchor="end" fill="#111" stroke="#111" stroke-width="0.12">MEP</text>
<text transform="translate(493.10,436.80) rotate(-45)" font-size="7.1" text-anchor="end" fill="#111" stroke="#111" stroke-width="0.12">Gr1<tspan font-size="4.6" dy="-2.0" dx="0.6">low</tspan></text>
<text transform="translate(503.40,436.80) rotate(-45)" font-size="7.1" text-anchor="end" fill="#111" stroke="#111" stroke-width="0.12">Gr1<tspan font-size="4.6" dy="-2.0" dx="0.6">high</tspan></text>
<text transform="translate(4.60,462.30) scale(1.1,1)" font-size="10.2" font-weight="bold" fill="#000">F</text>
<text x="88.80" y="467.00" font-size="7.49" text-anchor="middle" font-weight="normal" font-style="normal" fill="#111" textLength="37.72" lengthAdjust="spacingAndGlyphs" >CFUs in BM</text>
<rect x="41.70" y="512.95" width="9.80" height="53.85" fill="#ff9a0a"/>
<rect x="41.70" y="503.53" width="9.80" height="9.42" fill="#662d87"/>
<rect x="41.70" y="497.71" width="9.80" height="5.82" fill="#3cb84a"/>
<rect x="41.70" y="493.37" width="9.80" height="4.34" fill="#1f5a94"/>
<rect x="41.70" y="490.20" width="9.80" height="3.17" fill="#c8143c"/>
<line x1="41.70" y1="512.95" x2="51.50" y2="512.95" stroke="#0a0a0a" stroke-width="0.7" />
<line x1="46.60" y1="512.95" x2="46.60" y2="511.25" stroke="#0a0a0a" stroke-width="0.6" />
<line x1="44.50" y1="511.25" x2="48.70" y2="511.25" stroke="#0a0a0a" stroke-width="0.6" />
<line x1="41.70" y1="503.53" x2="51.50" y2="503.53" stroke="#0a0a0a" stroke-width="0.7" />
<line x1="46.60" y1="503.53" x2="46.60" y2="501.83" stroke="#0a0a0a" stroke-width="0.6" />
<line x1="44.50" y1="501.83" x2="48.70" y2="501.83" stroke="#0a0a0a" stroke-width="0.6" />
<line x1="41.70" y1="497.71" x2="51.50" y2="497.71" stroke="#0a0a0a" stroke-width="0.7" />
<line x1="46.60" y1="497.71" x2="46.60" y2="496.01" stroke="#0a0a0a" stroke-width="0.6" />
<line x1="44.50" y1="496.01" x2="48.70" y2="496.01" stroke="#0a0a0a" stroke-width="0.6" />
<line x1="41.70" y1="493.37" x2="51.50" y2="493.37" stroke="#0a0a0a" stroke-width="0.7" />
<line x1="46.60" y1="493.37" x2="46.60" y2="491.67" stroke="#0a0a0a" stroke-width="0.6" />
<line x1="44.50" y1="491.67" x2="48.70" y2="491.67" stroke="#0a0a0a" stroke-width="0.6" />
<line x1="41.70" y1="490.20" x2="51.50" y2="490.20" stroke="#0a0a0a" stroke-width="0.7" />
<line x1="46.60" y1="490.20" x2="46.60" y2="489.30" stroke="#0a0a0a" stroke-width="0.6" />
<line x1="44.50" y1="489.30" x2="48.70" y2="489.30" stroke="#0a0a0a" stroke-width="0.6" />
<rect x="41.70" y="490.20" width="9.80" height="76.60" fill="none" stroke="#0a0a0a" stroke-width="0.9"/>
<rect x="56.30" y="526.17" width="9.90" height="40.63" fill="#ff9a0a"/>
<rect x="56.30" y="519.40" width="9.90" height="6.77" fill="#662d87"/>
<rect x="56.30" y="512.63" width="9.90" height="6.77" fill="#3cb84a"/>
<rect x="56.30" y="508.93" width="9.90" height="3.70" fill="#1f5a94"/>
<rect x="56.30" y="506.60" width="9.90" height="2.33" fill="#c8143c"/>
<line x1="56.30" y1="526.17" x2="66.20" y2="526.17" stroke="#0a0a0a" stroke-width="0.7" />
<line x1="61.25" y1="526.17" x2="61.25" y2="524.47" stroke="#0a0a0a" stroke-width="0.6" />
<line x1="59.15" y1="524.47" x2="63.35" y2="524.47" stroke="#0a0a0a" stroke-width="0.6" />
<line x1="56.30" y1="519.40" x2="66.20" y2="519.40" stroke="#0a0a0a" stroke-width="0.7" />
<line x1="61.25" y1="519.40" x2="61.25" y2="517.70" stroke="#0a0a0a" stroke-width="0.6" />
<line x1="59.15" y1="517.70" x2="63.35" y2="517.70" stroke="#0a0a0a" stroke-width="0.6" />
<line x1="56.30" y1="512.63" x2="66.20" y2="512.63" stroke="#0a0a0a" stroke-width="0.7" />
<line x1="61.25" y1="512.63" x2="61.25" y2="510.93" stroke="#0a0a0a" stroke-width="0.6" />
<line x1="59.15" y1="510.93" x2="63.35" y2="510.93" stroke="#0a0a0a" stroke-width="0.6" />
<line x1="56.30" y1="508.93" x2="66.20" y2="508.93" stroke="#0a0a0a" stroke-width="0.7" />
<line x1="61.25" y1="508.93" x2="61.25" y2="507.23" stroke="#0a0a0a" stroke-width="0.6" />
<line x1="59.15" y1="507.23" x2="63.35" y2="507.23" stroke="#0a0a0a" stroke-width="0.6" />
<line x1="56.30" y1="506.60" x2="66.20" y2="506.60" stroke="#0a0a0a" stroke-width="0.7" />
<line x1="61.25" y1="506.60" x2="61.25" y2="505.70" stroke="#0a0a0a" stroke-width="0.6" />
<line x1="59.15" y1="505.70" x2="63.35" y2="505.70" stroke="#0a0a0a" stroke-width="0.6" />
<rect x="56.30" y="506.60" width="9.90" height="60.20" fill="none" stroke="#0a0a0a" stroke-width="0.9"/>
<rect x="76.30" y="535.38" width="10.00" height="31.42" fill="#ff9a0a"/>
<rect x="76.30" y="530.62" width="10.00" height="4.76" fill="#662d87"/>
<rect x="76.30" y="526.60" width="10.00" height="4.02" fill="#3cb84a"/>
<rect x="76.30" y="526.07" width="10.00" height="0.53" fill="#1f5a94"/>
<rect x="76.30" y="525.54" width="10.00" height="0.53" fill="#c8143c"/>
<line x1="76.30" y1="535.38" x2="86.30" y2="535.38" stroke="#0a0a0a" stroke-width="0.7" />
<line x1="81.30" y1="535.38" x2="81.30" y2="533.68" stroke="#0a0a0a" stroke-width="0.6" />
<line x1="79.20" y1="533.68" x2="83.40" y2="533.68" stroke="#0a0a0a" stroke-width="0.6" />
<line x1="76.30" y1="530.62" x2="86.30" y2="530.62" stroke="#0a0a0a" stroke-width="0.7" />
<line x1="81.30" y1="530.62" x2="81.30" y2="528.92" stroke="#0a0a0a" stroke-width="0.6" />
<line x1="79.20" y1="528.92" x2="83.40" y2="528.92" stroke="#0a0a0a" stroke-width="0.6" />
<line x1="76.30" y1="526.60" x2="86.30" y2="526.60" stroke="#0a0a0a" stroke-width="0.7" />
<line x1="81.30" y1="526.60" x2="81.30" y2="524.90" stroke="#0a0a0a" stroke-width="0.6" />
<line x1="79.20" y1="524.90" x2="83.40" y2="524.90" stroke="#0a0a0a" stroke-width="0.6" />
<line x1="76.30" y1="526.07" x2="86.30" y2="526.07" stroke="#0a0a0a" stroke-width="0.7" />
<line x1="76.30" y1="525.54" x2="86.30" y2="525.54" stroke="#0a0a0a" stroke-width="0.7" />
<line x1="81.30" y1="525.54" x2="81.30" y2="524.64" stroke="#0a0a0a" stroke-width="0.6" />
<line x1="79.20" y1="524.64" x2="83.40" y2="524.64" stroke="#0a0a0a" stroke-width="0.6" />
<rect x="76.30" y="525.54" width="10.00" height="41.26" fill="none" stroke="#0a0a0a" stroke-width="0.9"/>
<rect x="90.70" y="547.54" width="9.90" height="19.26" fill="#ff9a0a"/>
<rect x="90.70" y="543.31" width="9.90" height="4.23" fill="#662d87"/>
<rect x="90.70" y="539.93" width="9.90" height="3.39" fill="#3cb84a"/>
<rect x="90.70" y="539.40" width="9.90" height="0.53" fill="#1f5a94"/>
<rect x="90.70" y="538.97" width="9.90" height="0.42" fill="#c8143c"/>
<line x1="90.70" y1="547.54" x2="100.60" y2="547.54" stroke="#0a0a0a" stroke-width="0.7" />
<line x1="95.65" y1="547.54" x2="95.65" y2="545.84" stroke="#0a0a0a" stroke-width="0.6" />
<line x1="93.55" y1="545.84" x2="97.75" y2="545.84" stroke="#0a0a0a" stroke-width="0.6" />
<line x1="90.70" y1="543.31" x2="100.60" y2="543.31" stroke="#0a0a0a" stroke-width="0.7" />
<line x1="95.65" y1="543.31" x2="95.65" y2="541.61" stroke="#0a0a0a" stroke-width="0.6" />
<line x1="93.55" y1="541.61" x2="97.75" y2="541.61" stroke="#0a0a0a" stroke-width="0.6" />
<line x1="90.70" y1="539.93" x2="100.60" y2="539.93" stroke="#0a0a0a" stroke-width="0.7" />
<line x1="95.65" y1="539.93" x2="95.65" y2="538.23" stroke="#0a0a0a" stroke-width="0.6" />
<line x1="93.55" y1="538.23" x2="97.75" y2="538.23" stroke="#0a0a0a" stroke-width="0.6" />
<line x1="90.70" y1="539.40" x2="100.60" y2="539.40" stroke="#0a0a0a" stroke-width="0.7" />
<line x1="90.70" y1="538.97" x2="100.60" y2="538.97" stroke="#0a0a0a" stroke-width="0.7" />
<line x1="95.65" y1="538.97" x2="95.65" y2="538.07" stroke="#0a0a0a" stroke-width="0.6" />
<line x1="93.55" y1="538.07" x2="97.75" y2="538.07" stroke="#0a0a0a" stroke-width="0.6" />
<rect x="90.70" y="538.97" width="9.90" height="27.83" fill="none" stroke="#0a0a0a" stroke-width="0.9"/>
<line x1="37.50" y1="481.80" x2="37.50" y2="567.50" stroke="#000" stroke-width="1.4" />
<line x1="37.50" y1="566.80" x2="140.00" y2="566.80" stroke="#000" stroke-width="1.3" />
<line x1="71.10" y1="566.80" x2="71.10" y2="575.40" stroke="#000" stroke-width="1.1" />
<line x1="105.20" y1="566.80" x2="105.20" y2="575.40" stroke="#000" stroke-width="1.1" />
<line x1="34.90" y1="545.64" x2="37.50" y2="545.64" stroke="#000" stroke-width="0.9" />
<text x="33.70" y="548.04" font-size="7.28" text-anchor="end" font-weight="normal" font-style="normal" fill="#111" textLength="7.56" lengthAdjust="spacingAndGlyphs" stroke="#111" stroke-width="0.18">20</text>
<line x1="34.90" y1="524.48" x2="37.50" y2="524.48" stroke="#000" stroke-width="0.9" />
<text x="33.70" y="526.88" font-size="7.28" text-anchor="end" font-weight="normal" font-style="normal" fill="#111" textLength="7.56" lengthAdjust="spacingAndGlyphs" stroke="#111" stroke-width="0.18">40</text>
<line x1="34.90" y1="503.32" x2="37.50" y2="503.32" stroke="#000" stroke-width="0.9" />
<text x="33.70" y="505.72" font-size="7.28" text-anchor="end" font-weight="normal" font-style="normal" fill="#111" textLength="7.56" lengthAdjust="spacingAndGlyphs" stroke="#111" stroke-width="0.18">60</text>
<line x1="34.90" y1="482.16" x2="37.50" y2="482.16" stroke="#000" stroke-width="0.9" />
<text x="33.70" y="484.56" font-size="7.28" text-anchor="end" font-weight="normal" font-style="normal" fill="#111" textLength="7.56" lengthAdjust="spacingAndGlyphs" stroke="#111" stroke-width="0.18">80</text>
<line x1="71.10" y1="493.20" x2="71.10" y2="566.20" stroke="#9e9e9e" stroke-width="1.2" stroke-dasharray="3.2,2"/>
<line x1="105.20" y1="493.20" x2="105.20" y2="566.20" stroke="#9e9e9e" stroke-width="1.2" stroke-dasharray="3.2,2"/>
<path d="M46.60,486.40 L46.60,484.00 L61.40,484.00 L61.40,486.40" fill="none" stroke="#000" stroke-width="0.9" />
<text x="54.00" y="484.10" font-size="5.60" text-anchor="middle" font-weight="bold" font-style="normal" fill="#000"  textLength="7.8" lengthAdjust="spacing">***</text>
<path d="M80.70,522.00 L80.70,519.70 L95.80,519.70 L95.80,522.00" fill="none" stroke="#000" stroke-width="0.9" />
<text x="88.25" y="519.80" font-size="5.60" text-anchor="middle" font-weight="bold" font-style="normal" fill="#000"  textLength="7.8" lengthAdjust="spacing">***</text>
<text x="30.00" y="573.60" font-size="7.06" text-anchor="middle" font-weight="normal" font-style="normal" fill="#111" textLength="11.37" lengthAdjust="spacingAndGlyphs" >IL-6</text>
<text x="46.80" y="573.80" font-size="7.00" text-anchor="middle" font-weight="normal" font-style="normal" fill="#111"  >+</text>
<text x="62.00" y="573.80" font-size="7.00" text-anchor="middle" font-weight="normal" font-style="normal" fill="#111"  >−</text>
<text x="81.30" y="573.80" font-size="7.00" text-anchor="middle" font-weight="normal" font-style="normal" fill="#111"  >+</text>
<text x="97.00" y="573.80" font-size="7.00" text-anchor="middle" font-weight="normal" font-style="normal" fill="#111"  >−</text>
<text x="115.00" y="573.80" font-size="7.00" text-anchor="middle" font-weight="normal" font-style="normal" fill="#111"  >+</text>
<text x="130.50" y="573.80" font-size="7.00" text-anchor="middle" font-weight="normal" font-style="normal" fill="#111"  >−</text>
<text x="55.40" y="582.10" font-size="7.49" text-anchor="middle" font-weight="normal" font-style="normal" fill="#111" textLength="6.69" lengthAdjust="spacingAndGlyphs" >0°</text>
<text x="89.60" y="582.10" font-size="7.49" text-anchor="middle" font-weight="normal" font-style="normal" fill="#111" textLength="6.69" lengthAdjust="spacingAndGlyphs" >1°</text>
<text x="123.60" y="582.10" font-size="7.49" text-anchor="middle" font-weight="normal" font-style="normal" fill="#111" textLength="6.69" lengthAdjust="spacingAndGlyphs" >2°</text>
<text x="125.60" y="556.60" font-size="7.49" text-anchor="middle" font-weight="normal" font-style="normal" fill="#111" textLength="36.58" lengthAdjust="spacingAndGlyphs" >No colonies</text>
<text x="125.60" y="565.00" font-size="7.49" text-anchor="middle" font-weight="normal" font-style="normal" fill="#111" textLength="32.30" lengthAdjust="spacingAndGlyphs" >detectable</text>
<text transform="translate(18.2,525.4) rotate(-90)" font-size="6.8" text-anchor="middle" fill="#111" stroke="#111" stroke-width="0.18" textLength="60.2" lengthAdjust="spacingAndGlyphs">CFUs per 3’000 c-Kit<tspan font-size="4" dy="-2">+</tspan><tspan dy="2"> cells</tspan></text>
<rect x="139.80" y="475.80" width="6.80" height="6.80" fill="#c8143c" stroke="#111" stroke-width="0.7"/>
<text x="150.00" y="481.80" font-size="6.80" text-anchor="start" font-weight="normal" font-style="normal" fill="#111"  textLength="16.8" lengthAdjust="spacingAndGlyphs" stroke="#111" stroke-width="0.08">BFU-E</text>
<rect x="139.80" y="486.80" width="6.80" height="6.80" fill="#1f5a94" stroke="#111" stroke-width="0.7"/>
<text x="150.00" y="492.80" font-size="6.80" text-anchor="start" font-weight="normal" font-style="normal" fill="#111"  textLength="32.3" lengthAdjust="spacingAndGlyphs" stroke="#111" stroke-width="0.08">CFU-GEMM</text>
<rect x="139.80" y="497.80" width="6.80" height="6.80" fill="#3cb84a" stroke="#111" stroke-width="0.7"/>
<text x="150.00" y="503.80" font-size="6.80" text-anchor="start" font-weight="normal" font-style="normal" fill="#111"  textLength="23.8" lengthAdjust="spacingAndGlyphs" stroke="#111" stroke-width="0.08">CFU-GM</text>
<rect x="139.80" y="508.80" width="6.80" height="6.80" fill="#662d87" stroke="#111" stroke-width="0.7"/>
<text x="150.00" y="514.80" font-size="6.80" text-anchor="start" font-weight="normal" font-style="normal" fill="#111"  textLength="18.8" lengthAdjust="spacingAndGlyphs" stroke="#111" stroke-width="0.08">CFU-M</text>
<rect x="139.80" y="519.80" width="6.80" height="6.80" fill="#ff9a0a" stroke="#111" stroke-width="0.7"/>
<text x="150.00" y="525.80" font-size="6.80" text-anchor="start" font-weight="normal" font-style="normal" fill="#111"  textLength="18.8" lengthAdjust="spacingAndGlyphs" stroke="#111" stroke-width="0.08">CFU-G</text>
<rect x="0" y="0" width="520" height="1.4" fill="#000"/><rect x="0" y="0" width="1.4" height="590" fill="#000"/><rect x="518.2" y="0" width="1.8" height="590" fill="#000"/><rect x="0" y="588.2" width="520" height="1.8" fill="#000"/>
</svg>
</body>
</html>
